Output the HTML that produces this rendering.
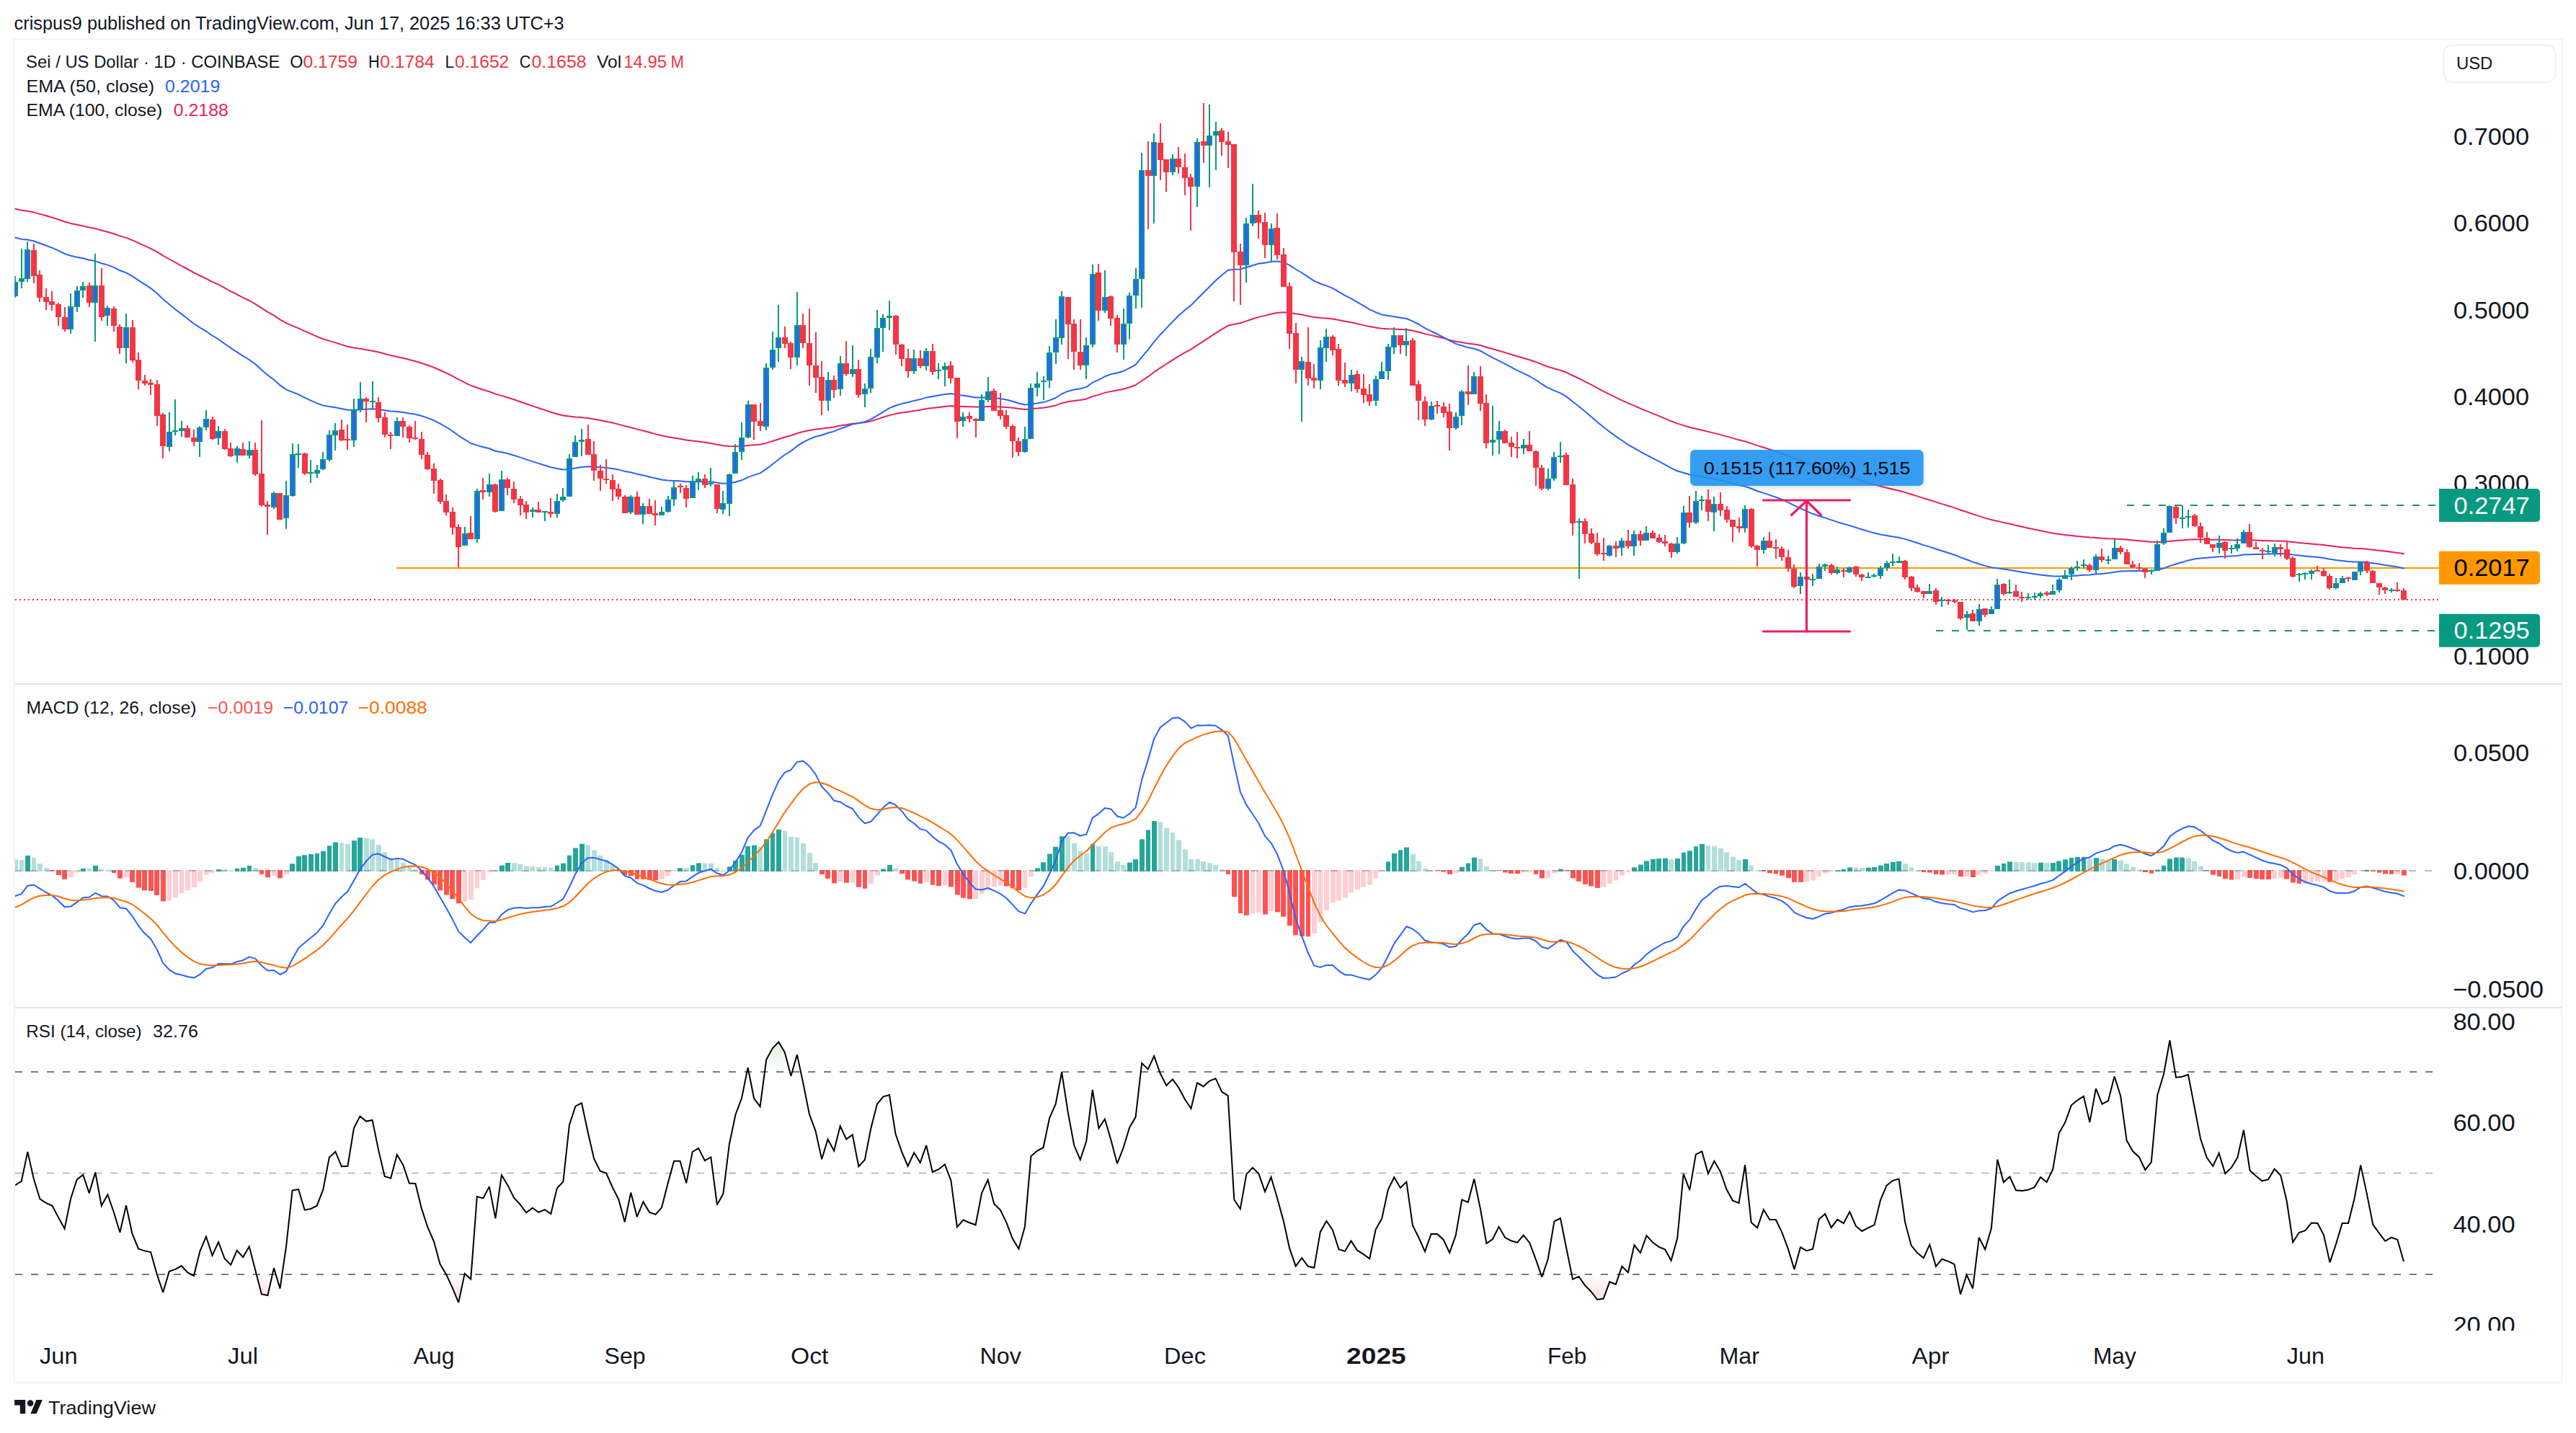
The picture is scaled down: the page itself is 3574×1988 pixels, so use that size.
<!DOCTYPE html>
<html><head><meta charset="utf-8"><title>Sei / US Dollar chart</title>
<style>
html,body{margin:0;padding:0;background:#fff;}
body{width:3574px;height:1988px;position:relative;overflow:hidden;font-family:'Liberation Sans', Arial, Helvetica, sans-serif;color:#131722;}
</style></head><body>
<svg width="3574" height="1988" viewBox="0 0 3574 1988" style="position:absolute;left:0;top:0" font-family="'Liberation Sans', Arial, Helvetica, sans-serif"><defs><clipPath id="clipP"><rect x="20.5" y="55" width="3363.5" height="893"/></clipPath><clipPath id="clipM"><rect x="21" y="950" width="3363" height="447"/></clipPath><clipPath id="clipR"><rect x="21" y="1399" width="3363" height="447"/></clipPath><clipPath id="clipRA"><rect x="3384" y="1399" width="170" height="447"/></clipPath><linearGradient id="gGreen" gradientUnits="userSpaceOnUse" x1="0" y1="1486.9" x2="0" y2="1276.1"><stop offset="0" stop-color="#4CAF50" stop-opacity="0"/><stop offset="1" stop-color="#4CAF50" stop-opacity="1"/></linearGradient><linearGradient id="gRed" gradientUnits="userSpaceOnUse" x1="0" y1="1768.0" x2="0" y2="1978.8"><stop offset="0" stop-color="#F23645" stop-opacity="0"/><stop offset="1" stop-color="#F23645" stop-opacity="1"/></linearGradient><filter id="blur" x="-10%" y="-50%" width="120%" height="200%"><feGaussianBlur stdDeviation="4"/></filter></defs><rect x="20" y="54" width="3534" height="1864" fill="none" stroke="#F3F3F3" stroke-width="2"/><rect x="21" y="948" width="3533" height="2" fill="#E0E3EB"/><rect x="21" y="1397" width="3533" height="2" fill="#E0E3EB"/><g clip-path="url(#clipP)">
<line x1="21" y1="832" x2="3384" y2="832" stroke="#F23645" stroke-width="2" stroke-dasharray="2 4" shape-rendering="crispEdges"/>
<rect x="550" y="787" width="2834" height="2" fill="#FF9800"/>
<line x1="2951" y1="701" x2="3384" y2="701" stroke="#089981" stroke-width="2" stroke-dasharray="10 12" shape-rendering="crispEdges"/>
<line x1="2686" y1="875" x2="3384" y2="875" stroke="#089981" stroke-width="2" stroke-dasharray="10 12" shape-rendering="crispEdges"/>
<polyline points="21.2,289.8 29.8,291.7 38.3,292.8 46.9,294.6 55.4,296.9 64.0,299.3 72.5,301.8 81.0,304.5 89.6,307.5 98.1,309.9 106.7,311.7 115.2,313.4 123.7,315.5 132.3,317.1 140.8,319.5 149.4,321.7 157.9,324.2 166.4,327.4 175.0,329.9 183.5,333.2 192.1,337.1 200.6,340.9 209.1,344.8 217.7,349.3 226.2,354.7 234.8,359.5 243.3,364.2 251.8,368.8 260.4,373.5 268.9,378.2 277.5,382.5 286.0,386.4 294.5,390.8 303.1,394.9 311.6,399.4 320.2,404.1 328.7,408.4 337.2,412.8 345.8,417.0 354.3,421.8 362.9,427.3 371.4,432.8 380.0,437.7 388.5,443.4 397.0,448.2 405.6,451.8 414.1,455.3 422.7,459.3 431.2,463.2 439.7,466.9 448.3,470.3 456.8,472.9 465.4,475.4 473.9,478.1 482.4,480.7 491.0,482.4 499.5,483.8 508.1,485.3 516.6,486.7 525.1,488.5 533.7,490.8 542.2,493.1 550.8,494.9 559.3,496.8 567.8,499.0 576.4,501.2 584.9,503.7 593.5,506.7 602.0,509.8 610.5,513.5 619.1,517.4 627.6,521.7 636.2,526.4 644.7,530.6 653.2,534.9 661.8,537.8 670.3,540.7 678.9,543.3 687.4,546.6 695.9,548.9 704.5,551.5 713.0,554.3 721.6,557.2 730.1,560.2 738.7,563.1 747.2,566.0 755.7,568.9 764.3,571.7 772.8,574.2 781.4,576.5 789.9,577.6 798.4,578.4 807.0,579.0 815.5,580.0 824.1,581.5 832.6,583.1 841.1,584.7 849.7,586.6 858.2,588.6 866.8,591.1 875.3,593.0 883.8,595.4 892.4,597.5 900.9,599.8 909.5,602.1 918.0,604.3 926.5,606.0 935.1,607.4 943.6,608.7 952.2,610.4 960.7,611.5 969.2,612.6 977.8,613.8 986.3,614.9 994.9,616.7 1003.4,618.3 1011.9,619.1 1020.5,619.2 1029.0,619.0 1037.6,617.9 1046.1,617.2 1054.6,616.7 1063.2,614.6 1071.7,612.0 1080.3,609.2 1088.8,606.5 1097.4,604.3 1105.9,601.3 1114.4,598.8 1123.0,597.0 1131.5,595.6 1140.1,594.8 1148.6,593.4 1157.1,592.4 1165.7,590.6 1174.2,589.2 1182.8,587.7 1191.3,586.9 1199.8,586.0 1208.4,584.2 1216.9,581.6 1225.5,578.8 1234.0,576.1 1242.5,574.1 1251.1,572.6 1259.6,571.4 1268.2,570.0 1276.7,568.8 1285.2,567.1 1293.8,566.1 1302.3,565.1 1310.9,563.9 1319.4,563.2 1327.9,563.6 1336.5,563.9 1345.0,564.2 1353.6,564.6 1362.1,564.4 1370.6,564.0 1379.2,564.1 1387.7,564.4 1396.3,564.9 1404.8,565.8 1413.4,567.0 1421.9,567.9 1430.4,567.3 1439.0,566.6 1447.5,565.8 1456.1,564.3 1464.6,562.4 1473.1,559.4 1481.7,557.3 1490.2,555.9 1498.8,554.9 1507.3,553.4 1515.8,550.0 1524.4,547.6 1532.9,544.9 1541.5,542.9 1550.0,541.6 1558.5,539.7 1567.1,537.2 1575.6,534.2 1584.2,528.3 1592.7,522.7 1601.2,516.2 1609.8,510.4 1618.3,505.0 1626.9,499.4 1635.4,494.1 1643.9,489.2 1652.5,484.6 1661.0,478.9 1669.6,473.4 1678.1,467.8 1686.6,462.1 1695.2,456.9 1703.7,451.8 1712.3,449.8 1720.8,448.2 1729.3,445.4 1737.9,442.5 1746.4,439.9 1755.0,437.9 1763.5,435.5 1772.1,433.9 1780.6,433.2 1789.1,433.7 1797.7,435.3 1806.2,436.6 1814.8,438.4 1823.3,440.1 1831.8,441.0 1840.4,441.5 1848.9,442.4 1857.5,444.1 1866.0,445.8 1874.5,447.3 1883.1,449.1 1891.6,451.1 1900.2,453.1 1908.7,454.6 1917.2,455.8 1925.8,456.3 1934.3,456.5 1942.9,456.9 1951.4,457.2 1959.9,458.8 1968.5,460.7 1977.0,463.1 1985.6,465.1 1994.1,467.0 2002.6,469.1 2011.2,471.6 2019.7,473.7 2028.3,475.1 2036.8,476.5 2045.3,477.4 2053.9,479.0 2062.4,481.7 2071.0,484.3 2079.5,486.5 2088.1,489.1 2096.6,491.7 2105.1,494.2 2113.7,496.7 2122.2,499.2 2130.8,502.2 2139.3,505.7 2147.8,508.8 2156.4,511.3 2164.9,513.7 2173.5,516.8 2182.0,521.0 2190.5,525.0 2199.1,529.3 2207.6,533.7 2216.2,538.3 2224.7,542.9 2233.2,547.1 2241.8,551.4 2250.3,555.3 2258.9,559.3 2267.4,562.9 2275.9,566.7 2284.5,570.1 2293.0,573.6 2301.6,577.1 2310.1,580.6 2318.6,584.3 2327.2,587.6 2335.7,590.1 2344.3,592.7 2352.8,594.8 2361.3,596.7 2369.9,598.9 2378.4,600.9 2387.0,603.1 2395.5,605.4 2404.0,607.9 2412.6,610.3 2421.1,612.2 2429.7,615.1 2438.2,618.1 2446.8,620.7 2455.3,623.4 2463.8,626.2 2472.4,629.1 2480.9,632.2 2489.5,635.8 2498.0,639.1 2506.5,642.4 2515.1,645.5 2523.6,648.3 2532.2,651.0 2540.7,653.8 2549.2,656.5 2557.8,659.2 2566.3,661.8 2574.9,664.5 2583.4,667.2 2591.9,669.8 2600.5,672.3 2609.0,674.6 2617.6,676.7 2626.1,678.8 2634.6,680.7 2643.2,683.1 2651.7,685.7 2660.3,688.4 2668.8,691.1 2677.3,693.7 2685.9,696.4 2694.4,699.1 2703.0,701.8 2711.5,704.4 2720.0,707.5 2728.6,710.3 2737.1,713.3 2745.7,715.9 2754.2,718.6 2762.8,721.1 2771.3,722.9 2779.8,724.9 2788.4,726.8 2796.9,728.8 2805.5,730.8 2814.0,732.7 2822.5,734.6 2831.1,736.3 2839.6,738.1 2848.2,739.7 2856.7,741.0 2865.2,742.1 2873.8,743.0 2882.3,743.9 2890.9,744.7 2899.4,745.6 2907.9,746.1 2916.5,746.7 2925.0,747.3 2933.6,747.6 2942.1,747.9 2950.6,748.6 2959.2,749.4 2967.7,750.2 2976.3,751.0 2984.8,751.8 2993.3,751.9 3001.9,751.6 3010.4,750.7 3019.0,750.0 3027.5,749.4 3036.0,748.7 3044.6,748.3 3053.1,748.3 3061.7,748.4 3070.2,748.7 3078.7,748.7 3087.3,749.0 3095.8,749.3 3104.4,749.4 3112.9,749.1 3121.5,749.3 3130.0,749.6 3138.5,749.9 3147.1,750.2 3155.6,750.4 3164.2,750.6 3172.7,751.1 3181.2,752.0 3189.8,752.9 3198.3,753.8 3206.9,754.5 3215.4,755.3 3223.9,756.1 3232.5,757.3 3241.0,758.3 3249.6,759.2 3258.1,760.1 3266.6,760.7 3275.2,761.1 3283.7,761.7 3292.3,762.7 3300.8,763.7 3309.3,764.8 3317.9,765.8 3326.4,766.9 3335.0,768.2" fill="none" stroke="#E91E63" stroke-width="2.0" stroke-linejoin="round" stroke-linecap="round" />
<polyline points="21.2,329.7 29.8,331.9 38.3,332.5 46.9,334.5 55.4,337.5 64.0,340.7 72.5,343.9 81.0,347.7 89.6,352.0 98.1,354.8 106.7,356.7 115.2,358.3 123.7,360.7 132.3,362.1 140.8,365.2 149.4,367.6 157.9,370.9 166.4,375.3 175.0,378.4 183.5,383.1 192.1,388.8 200.6,394.4 209.1,399.9 217.7,406.8 226.2,415.1 234.8,422.3 243.3,429.2 251.8,435.6 260.4,442.3 268.9,449.0 277.5,454.7 286.0,459.6 294.5,465.5 303.1,470.7 311.6,476.7 320.2,482.8 328.7,488.3 337.2,493.9 345.8,499.0 354.3,505.2 362.9,512.9 371.4,520.4 380.0,526.8 388.5,534.4 397.0,540.4 405.6,543.9 414.1,547.3 422.7,551.6 431.2,555.6 439.7,559.4 448.3,562.5 456.8,564.1 465.4,565.3 473.9,567.1 482.4,568.8 491.0,568.8 499.5,568.2 508.1,567.8 516.6,567.3 525.1,567.8 533.7,569.2 542.2,570.6 550.8,571.1 559.3,572.0 567.8,573.4 576.4,574.8 584.9,577.0 593.5,579.9 602.0,583.3 610.5,587.7 619.1,592.5 627.6,598.0 636.2,604.3 644.7,609.6 653.2,615.0 661.8,617.6 670.3,620.2 678.9,622.3 687.4,625.7 695.9,627.3 704.5,629.2 713.0,631.7 721.6,634.4 730.1,637.4 738.7,640.1 747.2,642.9 755.7,645.5 764.3,648.2 772.8,650.0 781.4,651.6 789.9,651.0 798.4,649.5 807.0,647.9 815.5,647.3 824.1,647.5 832.6,648.2 841.1,648.9 849.7,650.0 858.2,651.6 866.8,653.9 875.3,655.3 883.8,657.6 892.4,659.4 900.9,661.5 909.5,663.6 918.0,665.4 926.5,666.5 935.1,666.9 943.6,667.2 952.2,668.2 960.7,668.2 969.2,668.0 977.8,668.2 986.3,668.3 994.9,669.7 1003.4,670.8 1011.9,670.4 1020.5,668.7 1029.0,666.3 1037.6,662.1 1046.1,659.1 1054.6,656.4 1063.2,650.7 1071.7,644.2 1080.3,637.3 1088.8,631.0 1097.4,625.7 1105.9,618.9 1114.4,613.3 1123.0,609.1 1131.5,605.7 1140.1,603.8 1148.6,600.8 1157.1,598.4 1165.7,594.7 1174.2,591.7 1182.8,588.6 1191.3,587.0 1199.8,585.2 1208.4,581.6 1216.9,576.7 1225.5,571.4 1234.0,566.1 1242.5,562.7 1251.1,560.1 1259.6,558.3 1268.2,555.9 1276.7,554.1 1285.2,551.4 1293.8,550.1 1302.3,548.6 1310.9,547.0 1319.4,546.1 1327.9,547.7 1336.5,548.8 1345.0,550.1 1353.6,551.5 1362.1,551.6 1370.6,551.3 1379.2,552.0 1387.7,552.9 1396.3,554.5 1404.8,556.7 1413.4,559.5 1421.9,561.4 1430.4,560.5 1439.0,559.4 1447.5,558.1 1456.1,555.4 1464.6,552.0 1473.1,546.5 1481.7,542.7 1490.2,540.6 1498.8,539.3 1507.3,536.9 1515.8,530.7 1524.4,526.8 1532.9,522.3 1541.5,519.1 1550.0,517.5 1558.5,514.8 1567.1,510.7 1575.6,505.9 1584.2,495.3 1592.7,485.4 1601.2,474.1 1609.8,464.2 1618.3,455.4 1626.9,446.2 1635.4,437.8 1643.9,430.3 1652.5,423.6 1661.0,414.7 1669.6,406.3 1678.1,397.8 1686.6,389.3 1695.2,381.8 1703.7,374.7 1712.3,373.7 1720.8,373.5 1729.3,371.0 1737.9,368.2 1746.4,365.8 1755.0,364.8 1763.5,362.9 1772.1,362.5 1780.6,363.9 1789.1,367.8 1797.7,373.5 1806.2,378.5 1814.8,384.2 1823.3,389.9 1831.8,393.5 1840.4,396.4 1848.9,399.9 1857.5,404.9 1866.0,409.9 1874.5,414.2 1883.1,419.1 1891.6,424.2 1900.2,429.4 1908.7,433.2 1917.2,436.4 1925.8,438.1 1934.3,439.2 1942.9,440.8 1951.4,442.0 1959.9,445.7 1968.5,450.0 1977.0,455.2 1985.6,459.4 1994.1,463.5 2002.6,467.8 2011.2,472.7 2019.7,476.9 2028.3,479.5 2036.8,482.1 2045.3,483.7 2053.9,486.7 2062.4,491.7 2071.0,496.3 2079.5,500.3 2088.1,504.8 2096.6,509.3 2105.1,513.8 2113.7,517.8 2122.2,522.0 2130.8,527.0 2139.3,532.9 2147.8,538.1 2156.4,541.9 2164.9,545.4 2173.5,550.4 2182.0,557.3 2190.5,563.8 2199.1,570.7 2207.6,577.9 2216.2,585.4 2224.7,592.5 2233.2,599.0 2241.8,605.4 2250.3,611.0 2258.9,616.8 2267.4,621.7 2275.9,626.7 2284.5,631.2 2293.0,635.7 2301.6,640.2 2310.1,644.7 2318.6,649.4 2327.2,653.5 2335.7,655.8 2344.3,658.5 2352.8,660.0 2361.3,661.2 2369.9,663.1 2378.4,664.6 2387.0,666.2 2395.5,668.4 2404.0,670.8 2412.6,673.3 2421.1,674.6 2429.7,677.8 2438.2,681.2 2446.8,683.9 2455.3,686.9 2463.8,689.8 2472.4,693.0 2480.9,696.8 2489.5,701.4 2498.0,705.3 2506.5,709.1 2515.1,712.8 2523.6,715.7 2532.2,718.4 2540.7,721.4 2549.2,724.1 2557.8,726.8 2566.3,729.1 2574.9,731.8 2583.4,734.5 2591.9,737.1 2600.5,739.5 2609.0,741.4 2617.6,743.0 2626.1,744.4 2634.6,745.7 2643.2,747.9 2651.7,750.5 2660.3,753.3 2668.8,756.1 2677.3,758.6 2685.9,761.5 2694.4,764.3 2703.0,767.0 2711.5,769.7 2720.0,773.2 2728.6,776.2 2737.1,779.6 2745.7,782.2 2754.2,784.9 2762.8,787.3 2771.3,788.2 2779.8,789.6 2788.4,790.8 2796.9,792.3 2805.5,793.7 2814.0,795.1 2822.5,796.3 2831.1,797.4 2839.6,798.4 2848.2,799.3 2856.7,799.5 2865.2,799.4 2873.8,799.0 2882.3,798.4 2890.9,797.8 2899.4,797.6 2907.9,796.6 2916.5,795.9 2925.0,795.1 2933.6,793.7 2942.1,792.6 2950.6,792.2 2959.2,792.0 2967.7,791.9 2976.3,792.0 2984.8,792.0 2993.3,790.5 3001.9,788.5 3010.4,785.1 3019.0,782.5 3027.5,780.0 3036.0,777.4 3044.6,775.6 3053.1,774.4 3061.7,773.7 3070.2,773.1 3078.7,772.3 3087.3,772.0 3095.8,771.5 3104.4,770.9 3112.9,769.6 3121.5,769.2 3130.0,768.9 3138.5,768.8 3147.1,768.6 3155.6,768.2 3164.2,768.0 3172.7,768.2 3181.2,769.5 3189.8,770.5 3198.3,771.5 3206.9,772.3 3215.4,773.1 3223.9,774.1 3232.5,775.7 3241.0,777.0 3249.6,778.0 3258.1,779.0 3266.6,779.5 3275.2,779.5 3283.7,780.0 3292.3,781.2 3300.8,782.5 3309.3,784.0 3317.9,785.3 3326.4,786.6 3335.0,788.4" fill="none" stroke="#2962FF" stroke-width="2.0" stroke-linejoin="round" stroke-linecap="round" />
<g shape-rendering="crispEdges"><rect x="20" y="383" width="2" height="30" fill="#089981"/>
<rect x="17" y="391" width="8" height="20" fill="#089981"/>
<rect x="19" y="393" width="4" height="16" fill="#2962FF"/>
<rect x="29" y="345" width="2" height="55" fill="#089981"/>
<rect x="26" y="386" width="8" height="5" fill="#089981"/>
<rect x="28" y="388" width="4" height="1" fill="#2962FF"/>
<rect x="37" y="335" width="2" height="56" fill="#089981"/>
<rect x="34" y="346" width="8" height="41" fill="#089981"/>
<rect x="36" y="348" width="4" height="37" fill="#2962FF"/>
<rect x="46" y="338" width="2" height="55" fill="#F23645"/>
<rect x="43" y="347" width="8" height="36" fill="#F23645"/>
<rect x="54" y="375" width="2" height="44" fill="#F23645"/>
<rect x="51" y="381" width="8" height="32" fill="#F23645"/>
<rect x="63" y="400" width="2" height="30" fill="#F23645"/>
<rect x="60" y="412" width="8" height="7" fill="#F23645"/>
<rect x="71" y="404" width="2" height="27" fill="#F23645"/>
<rect x="68" y="418" width="8" height="5" fill="#F23645"/>
<rect x="80" y="420" width="2" height="32" fill="#F23645"/>
<rect x="77" y="422" width="8" height="18" fill="#F23645"/>
<rect x="89" y="426" width="2" height="34" fill="#F23645"/>
<rect x="86" y="440" width="8" height="17" fill="#F23645"/>
<rect x="97" y="407" width="2" height="56" fill="#089981"/>
<rect x="94" y="425" width="8" height="32" fill="#089981"/>
<rect x="96" y="427" width="4" height="28" fill="#2962FF"/>
<rect x="106" y="397" width="2" height="36" fill="#089981"/>
<rect x="103" y="403" width="8" height="23" fill="#089981"/>
<rect x="105" y="405" width="4" height="19" fill="#2962FF"/>
<rect x="114" y="391" width="2" height="22" fill="#089981"/>
<rect x="111" y="397" width="8" height="6" fill="#089981"/>
<rect x="113" y="399" width="4" height="2" fill="#2962FF"/>
<rect x="123" y="392" width="2" height="34" fill="#F23645"/>
<rect x="120" y="396" width="8" height="24" fill="#F23645"/>
<rect x="131" y="352" width="2" height="122" fill="#089981"/>
<rect x="128" y="396" width="8" height="24" fill="#089981"/>
<rect x="130" y="398" width="4" height="20" fill="#2962FF"/>
<rect x="140" y="372" width="2" height="73" fill="#F23645"/>
<rect x="137" y="396" width="8" height="44" fill="#F23645"/>
<rect x="148" y="424" width="2" height="28" fill="#089981"/>
<rect x="145" y="427" width="8" height="11" fill="#089981"/>
<rect x="147" y="429" width="4" height="7" fill="#2962FF"/>
<rect x="157" y="425" width="2" height="35" fill="#F23645"/>
<rect x="154" y="428" width="8" height="24" fill="#F23645"/>
<rect x="165" y="450" width="2" height="41" fill="#F23645"/>
<rect x="162" y="453" width="8" height="30" fill="#F23645"/>
<rect x="174" y="435" width="2" height="69" fill="#089981"/>
<rect x="171" y="454" width="8" height="29" fill="#089981"/>
<rect x="173" y="456" width="4" height="25" fill="#2962FF"/>
<rect x="183" y="444" width="2" height="59" fill="#F23645"/>
<rect x="180" y="454" width="8" height="46" fill="#F23645"/>
<rect x="191" y="489" width="2" height="51" fill="#F23645"/>
<rect x="188" y="499" width="8" height="29" fill="#F23645"/>
<rect x="200" y="520" width="2" height="15" fill="#F23645"/>
<rect x="197" y="528" width="8" height="4" fill="#F23645"/>
<rect x="208" y="526" width="2" height="22" fill="#F23645"/>
<rect x="205" y="531" width="8" height="3" fill="#F23645"/>
<rect x="217" y="527" width="2" height="64" fill="#F23645"/>
<rect x="214" y="533" width="8" height="44" fill="#F23645"/>
<rect x="225" y="573" width="2" height="63" fill="#F23645"/>
<rect x="222" y="575" width="8" height="44" fill="#F23645"/>
<rect x="234" y="572" width="2" height="54" fill="#089981"/>
<rect x="231" y="599" width="8" height="21" fill="#089981"/>
<rect x="233" y="601" width="4" height="17" fill="#2962FF"/>
<rect x="242" y="554" width="2" height="50" fill="#089981"/>
<rect x="239" y="597" width="8" height="2" fill="#089981"/>
<rect x="251" y="584" width="2" height="22" fill="#089981"/>
<rect x="248" y="594" width="8" height="4" fill="#089981"/>
<rect x="259" y="590" width="2" height="17" fill="#F23645"/>
<rect x="256" y="594" width="8" height="13" fill="#F23645"/>
<rect x="268" y="596" width="2" height="23" fill="#F23645"/>
<rect x="265" y="607" width="8" height="6" fill="#F23645"/>
<rect x="276" y="591" width="2" height="43" fill="#089981"/>
<rect x="273" y="593" width="8" height="20" fill="#089981"/>
<rect x="275" y="595" width="4" height="16" fill="#2962FF"/>
<rect x="285" y="569" width="2" height="28" fill="#089981"/>
<rect x="282" y="581" width="8" height="12" fill="#089981"/>
<rect x="284" y="583" width="4" height="8" fill="#2962FF"/>
<rect x="294" y="578" width="2" height="32" fill="#F23645"/>
<rect x="291" y="582" width="8" height="27" fill="#F23645"/>
<rect x="302" y="591" width="2" height="26" fill="#089981"/>
<rect x="299" y="598" width="8" height="10" fill="#089981"/>
<rect x="301" y="600" width="4" height="6" fill="#2962FF"/>
<rect x="311" y="595" width="2" height="29" fill="#F23645"/>
<rect x="308" y="598" width="8" height="25" fill="#F23645"/>
<rect x="319" y="614" width="2" height="20" fill="#F23645"/>
<rect x="316" y="622" width="8" height="11" fill="#F23645"/>
<rect x="328" y="619" width="2" height="23" fill="#089981"/>
<rect x="325" y="622" width="8" height="10" fill="#089981"/>
<rect x="327" y="624" width="4" height="6" fill="#2962FF"/>
<rect x="336" y="614" width="2" height="18" fill="#F23645"/>
<rect x="333" y="623" width="8" height="9" fill="#F23645"/>
<rect x="345" y="612" width="2" height="24" fill="#089981"/>
<rect x="342" y="624" width="8" height="8" fill="#089981"/>
<rect x="344" y="626" width="4" height="4" fill="#2962FF"/>
<rect x="353" y="614" width="2" height="46" fill="#F23645"/>
<rect x="350" y="624" width="8" height="34" fill="#F23645"/>
<rect x="362" y="583" width="2" height="120" fill="#F23645"/>
<rect x="359" y="657" width="8" height="44" fill="#F23645"/>
<rect x="370" y="695" width="2" height="47" fill="#F23645"/>
<rect x="367" y="700" width="8" height="3" fill="#F23645"/>
<rect x="379" y="682" width="2" height="24" fill="#089981"/>
<rect x="376" y="684" width="8" height="20" fill="#089981"/>
<rect x="378" y="686" width="4" height="16" fill="#2962FF"/>
<rect x="387" y="684" width="2" height="37" fill="#F23645"/>
<rect x="384" y="684" width="8" height="37" fill="#F23645"/>
<rect x="396" y="667" width="2" height="67" fill="#089981"/>
<rect x="393" y="687" width="8" height="32" fill="#089981"/>
<rect x="395" y="689" width="4" height="28" fill="#2962FF"/>
<rect x="405" y="615" width="2" height="74" fill="#089981"/>
<rect x="402" y="630" width="8" height="58" fill="#089981"/>
<rect x="404" y="632" width="4" height="54" fill="#2962FF"/>
<rect x="413" y="616" width="2" height="33" fill="#089981"/>
<rect x="410" y="629" width="8" height="2" fill="#089981"/>
<rect x="422" y="628" width="2" height="31" fill="#F23645"/>
<rect x="419" y="629" width="8" height="28" fill="#F23645"/>
<rect x="430" y="638" width="2" height="32" fill="#089981"/>
<rect x="427" y="655" width="8" height="2" fill="#089981"/>
<rect x="439" y="645" width="2" height="18" fill="#089981"/>
<rect x="436" y="652" width="8" height="5" fill="#089981"/>
<rect x="438" y="654" width="4" height="1" fill="#2962FF"/>
<rect x="447" y="627" width="2" height="25" fill="#089981"/>
<rect x="444" y="637" width="8" height="14" fill="#089981"/>
<rect x="446" y="639" width="4" height="10" fill="#2962FF"/>
<rect x="456" y="597" width="2" height="43" fill="#089981"/>
<rect x="453" y="603" width="8" height="35" fill="#089981"/>
<rect x="455" y="605" width="4" height="31" fill="#2962FF"/>
<rect x="464" y="587" width="2" height="38" fill="#089981"/>
<rect x="461" y="597" width="8" height="7" fill="#089981"/>
<rect x="463" y="599" width="4" height="3" fill="#2962FF"/>
<rect x="473" y="582" width="2" height="30" fill="#F23645"/>
<rect x="470" y="596" width="8" height="15" fill="#F23645"/>
<rect x="481" y="589" width="2" height="35" fill="#F23645"/>
<rect x="478" y="609" width="8" height="2" fill="#F23645"/>
<rect x="490" y="553" width="2" height="67" fill="#089981"/>
<rect x="487" y="569" width="8" height="42" fill="#089981"/>
<rect x="489" y="571" width="4" height="38" fill="#2962FF"/>
<rect x="499" y="530" width="2" height="42" fill="#089981"/>
<rect x="496" y="553" width="8" height="15" fill="#089981"/>
<rect x="498" y="555" width="4" height="11" fill="#2962FF"/>
<rect x="507" y="551" width="2" height="35" fill="#F23645"/>
<rect x="504" y="553" width="8" height="4" fill="#F23645"/>
<rect x="516" y="529" width="2" height="39" fill="#089981"/>
<rect x="513" y="556" width="8" height="2" fill="#089981"/>
<rect x="524" y="551" width="2" height="35" fill="#F23645"/>
<rect x="521" y="558" width="8" height="22" fill="#F23645"/>
<rect x="533" y="572" width="2" height="35" fill="#F23645"/>
<rect x="530" y="579" width="8" height="24" fill="#F23645"/>
<rect x="541" y="599" width="2" height="24" fill="#F23645"/>
<rect x="538" y="603" width="8" height="2" fill="#F23645"/>
<rect x="550" y="579" width="2" height="26" fill="#089981"/>
<rect x="547" y="584" width="8" height="21" fill="#089981"/>
<rect x="549" y="586" width="4" height="17" fill="#2962FF"/>
<rect x="558" y="579" width="2" height="28" fill="#F23645"/>
<rect x="555" y="584" width="8" height="8" fill="#F23645"/>
<rect x="567" y="590" width="2" height="24" fill="#F23645"/>
<rect x="564" y="592" width="8" height="16" fill="#F23645"/>
<rect x="575" y="584" width="2" height="26" fill="#F23645"/>
<rect x="572" y="607" width="8" height="2" fill="#F23645"/>
<rect x="584" y="599" width="2" height="38" fill="#F23645"/>
<rect x="581" y="609" width="8" height="22" fill="#F23645"/>
<rect x="592" y="627" width="2" height="25" fill="#F23645"/>
<rect x="589" y="631" width="8" height="20" fill="#F23645"/>
<rect x="601" y="643" width="2" height="42" fill="#F23645"/>
<rect x="598" y="650" width="8" height="17" fill="#F23645"/>
<rect x="610" y="664" width="2" height="35" fill="#F23645"/>
<rect x="607" y="666" width="8" height="30" fill="#F23645"/>
<rect x="618" y="686" width="2" height="29" fill="#F23645"/>
<rect x="615" y="695" width="8" height="16" fill="#F23645"/>
<rect x="627" y="704" width="2" height="38" fill="#F23645"/>
<rect x="624" y="710" width="8" height="22" fill="#F23645"/>
<rect x="635" y="727" width="2" height="60" fill="#F23645"/>
<rect x="632" y="731" width="8" height="28" fill="#F23645"/>
<rect x="644" y="731" width="2" height="26" fill="#089981"/>
<rect x="641" y="740" width="8" height="17" fill="#089981"/>
<rect x="643" y="742" width="4" height="13" fill="#2962FF"/>
<rect x="652" y="716" width="2" height="32" fill="#F23645"/>
<rect x="649" y="739" width="8" height="9" fill="#F23645"/>
<rect x="661" y="678" width="2" height="75" fill="#089981"/>
<rect x="658" y="681" width="8" height="67" fill="#089981"/>
<rect x="660" y="683" width="4" height="63" fill="#2962FF"/>
<rect x="669" y="663" width="2" height="30" fill="#F23645"/>
<rect x="666" y="680" width="8" height="3" fill="#F23645"/>
<rect x="678" y="657" width="2" height="32" fill="#089981"/>
<rect x="675" y="672" width="8" height="11" fill="#089981"/>
<rect x="677" y="674" width="4" height="7" fill="#2962FF"/>
<rect x="686" y="671" width="2" height="40" fill="#F23645"/>
<rect x="683" y="672" width="8" height="38" fill="#F23645"/>
<rect x="695" y="653" width="2" height="56" fill="#089981"/>
<rect x="692" y="665" width="8" height="44" fill="#089981"/>
<rect x="694" y="667" width="4" height="40" fill="#2962FF"/>
<rect x="703" y="663" width="2" height="24" fill="#F23645"/>
<rect x="700" y="665" width="8" height="12" fill="#F23645"/>
<rect x="712" y="668" width="2" height="30" fill="#F23645"/>
<rect x="709" y="678" width="8" height="15" fill="#F23645"/>
<rect x="721" y="688" width="2" height="27" fill="#F23645"/>
<rect x="718" y="692" width="8" height="9" fill="#F23645"/>
<rect x="729" y="695" width="2" height="25" fill="#F23645"/>
<rect x="726" y="700" width="8" height="11" fill="#F23645"/>
<rect x="738" y="704" width="2" height="14" fill="#089981"/>
<rect x="735" y="707" width="8" height="3" fill="#089981"/>
<rect x="746" y="696" width="2" height="15" fill="#F23645"/>
<rect x="743" y="707" width="8" height="4" fill="#F23645"/>
<rect x="755" y="709" width="2" height="14" fill="#089981"/>
<rect x="752" y="709" width="8" height="2" fill="#089981"/>
<rect x="763" y="691" width="2" height="27" fill="#F23645"/>
<rect x="760" y="710" width="8" height="3" fill="#F23645"/>
<rect x="772" y="685" width="2" height="33" fill="#089981"/>
<rect x="769" y="695" width="8" height="18" fill="#089981"/>
<rect x="771" y="697" width="4" height="14" fill="#2962FF"/>
<rect x="780" y="677" width="2" height="19" fill="#089981"/>
<rect x="777" y="689" width="8" height="5" fill="#089981"/>
<rect x="779" y="691" width="4" height="1" fill="#2962FF"/>
<rect x="789" y="630" width="2" height="59" fill="#089981"/>
<rect x="786" y="636" width="8" height="53" fill="#089981"/>
<rect x="788" y="638" width="4" height="49" fill="#2962FF"/>
<rect x="797" y="604" width="2" height="30" fill="#089981"/>
<rect x="794" y="613" width="8" height="21" fill="#089981"/>
<rect x="796" y="615" width="4" height="17" fill="#2962FF"/>
<rect x="806" y="595" width="2" height="38" fill="#089981"/>
<rect x="803" y="610" width="8" height="3" fill="#089981"/>
<rect x="815" y="589" width="2" height="42" fill="#F23645"/>
<rect x="812" y="609" width="8" height="22" fill="#F23645"/>
<rect x="823" y="612" width="2" height="55" fill="#F23645"/>
<rect x="820" y="630" width="8" height="23" fill="#F23645"/>
<rect x="832" y="645" width="2" height="36" fill="#F23645"/>
<rect x="829" y="653" width="8" height="11" fill="#F23645"/>
<rect x="840" y="637" width="2" height="34" fill="#F23645"/>
<rect x="837" y="664" width="8" height="2" fill="#F23645"/>
<rect x="849" y="658" width="2" height="37" fill="#F23645"/>
<rect x="846" y="666" width="8" height="13" fill="#F23645"/>
<rect x="857" y="671" width="2" height="22" fill="#F23645"/>
<rect x="854" y="678" width="8" height="11" fill="#F23645"/>
<rect x="866" y="687" width="2" height="25" fill="#F23645"/>
<rect x="863" y="689" width="8" height="23" fill="#F23645"/>
<rect x="874" y="687" width="2" height="26" fill="#089981"/>
<rect x="871" y="689" width="8" height="22" fill="#089981"/>
<rect x="873" y="691" width="4" height="18" fill="#2962FF"/>
<rect x="883" y="682" width="2" height="32" fill="#F23645"/>
<rect x="880" y="689" width="8" height="25" fill="#F23645"/>
<rect x="891" y="698" width="2" height="29" fill="#089981"/>
<rect x="888" y="702" width="8" height="12" fill="#089981"/>
<rect x="890" y="704" width="4" height="8" fill="#2962FF"/>
<rect x="900" y="692" width="2" height="21" fill="#F23645"/>
<rect x="897" y="702" width="8" height="11" fill="#F23645"/>
<rect x="908" y="694" width="2" height="35" fill="#F23645"/>
<rect x="905" y="712" width="8" height="3" fill="#F23645"/>
<rect x="917" y="703" width="2" height="12" fill="#089981"/>
<rect x="914" y="710" width="8" height="5" fill="#089981"/>
<rect x="916" y="712" width="4" height="1" fill="#2962FF"/>
<rect x="926" y="688" width="2" height="23" fill="#089981"/>
<rect x="923" y="693" width="8" height="17" fill="#089981"/>
<rect x="925" y="695" width="4" height="13" fill="#2962FF"/>
<rect x="934" y="667" width="2" height="35" fill="#089981"/>
<rect x="931" y="676" width="8" height="17" fill="#089981"/>
<rect x="933" y="678" width="4" height="13" fill="#2962FF"/>
<rect x="943" y="671" width="2" height="13" fill="#F23645"/>
<rect x="940" y="674" width="8" height="2" fill="#F23645"/>
<rect x="951" y="673" width="2" height="31" fill="#F23645"/>
<rect x="948" y="677" width="8" height="15" fill="#F23645"/>
<rect x="960" y="660" width="2" height="31" fill="#089981"/>
<rect x="957" y="667" width="8" height="24" fill="#089981"/>
<rect x="959" y="669" width="4" height="20" fill="#2962FF"/>
<rect x="968" y="655" width="2" height="25" fill="#089981"/>
<rect x="965" y="664" width="8" height="3" fill="#089981"/>
<rect x="977" y="658" width="2" height="19" fill="#F23645"/>
<rect x="974" y="664" width="8" height="9" fill="#F23645"/>
<rect x="985" y="649" width="2" height="26" fill="#089981"/>
<rect x="982" y="670" width="8" height="2" fill="#089981"/>
<rect x="994" y="672" width="2" height="40" fill="#F23645"/>
<rect x="991" y="672" width="8" height="34" fill="#F23645"/>
<rect x="1002" y="681" width="2" height="32" fill="#089981"/>
<rect x="999" y="698" width="8" height="9" fill="#089981"/>
<rect x="1001" y="700" width="4" height="5" fill="#2962FF"/>
<rect x="1011" y="657" width="2" height="59" fill="#089981"/>
<rect x="1008" y="658" width="8" height="41" fill="#089981"/>
<rect x="1010" y="660" width="4" height="37" fill="#2962FF"/>
<rect x="1019" y="616" width="2" height="41" fill="#089981"/>
<rect x="1016" y="627" width="8" height="30" fill="#089981"/>
<rect x="1018" y="629" width="4" height="26" fill="#2962FF"/>
<rect x="1028" y="586" width="2" height="52" fill="#089981"/>
<rect x="1025" y="607" width="8" height="20" fill="#089981"/>
<rect x="1027" y="609" width="4" height="16" fill="#2962FF"/>
<rect x="1037" y="556" width="2" height="52" fill="#089981"/>
<rect x="1034" y="561" width="8" height="46" fill="#089981"/>
<rect x="1036" y="563" width="4" height="42" fill="#2962FF"/>
<rect x="1045" y="561" width="2" height="49" fill="#F23645"/>
<rect x="1042" y="561" width="8" height="24" fill="#F23645"/>
<rect x="1054" y="559" width="2" height="39" fill="#F23645"/>
<rect x="1051" y="584" width="8" height="7" fill="#F23645"/>
<rect x="1062" y="504" width="2" height="93" fill="#089981"/>
<rect x="1059" y="510" width="8" height="82" fill="#089981"/>
<rect x="1061" y="512" width="4" height="78" fill="#2962FF"/>
<rect x="1071" y="460" width="2" height="53" fill="#089981"/>
<rect x="1068" y="485" width="8" height="25" fill="#089981"/>
<rect x="1070" y="487" width="4" height="21" fill="#2962FF"/>
<rect x="1079" y="423" width="2" height="79" fill="#089981"/>
<rect x="1076" y="468" width="8" height="15" fill="#089981"/>
<rect x="1078" y="470" width="4" height="11" fill="#2962FF"/>
<rect x="1088" y="453" width="2" height="30" fill="#F23645"/>
<rect x="1085" y="468" width="8" height="9" fill="#F23645"/>
<rect x="1096" y="474" width="2" height="38" fill="#F23645"/>
<rect x="1093" y="476" width="8" height="20" fill="#F23645"/>
<rect x="1105" y="405" width="2" height="102" fill="#089981"/>
<rect x="1102" y="451" width="8" height="45" fill="#089981"/>
<rect x="1104" y="453" width="4" height="41" fill="#2962FF"/>
<rect x="1113" y="435" width="2" height="48" fill="#F23645"/>
<rect x="1110" y="451" width="8" height="25" fill="#F23645"/>
<rect x="1122" y="428" width="2" height="107" fill="#F23645"/>
<rect x="1119" y="476" width="8" height="31" fill="#F23645"/>
<rect x="1131" y="461" width="2" height="84" fill="#F23645"/>
<rect x="1128" y="507" width="8" height="17" fill="#F23645"/>
<rect x="1139" y="501" width="2" height="75" fill="#F23645"/>
<rect x="1136" y="523" width="8" height="33" fill="#F23645"/>
<rect x="1148" y="516" width="2" height="54" fill="#089981"/>
<rect x="1145" y="527" width="8" height="29" fill="#089981"/>
<rect x="1147" y="529" width="4" height="25" fill="#2962FF"/>
<rect x="1156" y="521" width="2" height="31" fill="#F23645"/>
<rect x="1153" y="527" width="8" height="14" fill="#F23645"/>
<rect x="1165" y="494" width="2" height="55" fill="#089981"/>
<rect x="1162" y="504" width="8" height="36" fill="#089981"/>
<rect x="1164" y="506" width="4" height="32" fill="#2962FF"/>
<rect x="1173" y="473" width="2" height="48" fill="#F23645"/>
<rect x="1170" y="504" width="8" height="15" fill="#F23645"/>
<rect x="1182" y="479" width="2" height="44" fill="#089981"/>
<rect x="1179" y="512" width="8" height="7" fill="#089981"/>
<rect x="1181" y="514" width="4" height="3" fill="#2962FF"/>
<rect x="1190" y="499" width="2" height="53" fill="#F23645"/>
<rect x="1187" y="512" width="8" height="36" fill="#F23645"/>
<rect x="1199" y="532" width="2" height="33" fill="#089981"/>
<rect x="1196" y="539" width="8" height="8" fill="#089981"/>
<rect x="1198" y="541" width="4" height="4" fill="#2962FF"/>
<rect x="1207" y="484" width="2" height="61" fill="#089981"/>
<rect x="1204" y="495" width="8" height="44" fill="#089981"/>
<rect x="1206" y="497" width="4" height="40" fill="#2962FF"/>
<rect x="1216" y="430" width="2" height="74" fill="#089981"/>
<rect x="1213" y="455" width="8" height="41" fill="#089981"/>
<rect x="1215" y="457" width="4" height="37" fill="#2962FF"/>
<rect x="1224" y="436" width="2" height="52" fill="#089981"/>
<rect x="1221" y="441" width="8" height="14" fill="#089981"/>
<rect x="1223" y="443" width="4" height="10" fill="#2962FF"/>
<rect x="1233" y="417" width="2" height="41" fill="#089981"/>
<rect x="1230" y="438" width="8" height="3" fill="#089981"/>
<rect x="1242" y="437" width="2" height="55" fill="#F23645"/>
<rect x="1239" y="438" width="8" height="40" fill="#F23645"/>
<rect x="1250" y="477" width="2" height="31" fill="#F23645"/>
<rect x="1247" y="478" width="8" height="20" fill="#F23645"/>
<rect x="1259" y="484" width="2" height="40" fill="#F23645"/>
<rect x="1256" y="497" width="8" height="18" fill="#F23645"/>
<rect x="1267" y="485" width="2" height="34" fill="#089981"/>
<rect x="1264" y="497" width="8" height="18" fill="#089981"/>
<rect x="1266" y="499" width="4" height="14" fill="#2962FF"/>
<rect x="1276" y="486" width="2" height="25" fill="#F23645"/>
<rect x="1273" y="497" width="8" height="11" fill="#F23645"/>
<rect x="1284" y="483" width="2" height="31" fill="#089981"/>
<rect x="1281" y="487" width="8" height="21" fill="#089981"/>
<rect x="1283" y="489" width="4" height="17" fill="#2962FF"/>
<rect x="1293" y="477" width="2" height="43" fill="#F23645"/>
<rect x="1290" y="487" width="8" height="29" fill="#F23645"/>
<rect x="1301" y="504" width="2" height="22" fill="#089981"/>
<rect x="1298" y="513" width="8" height="2" fill="#089981"/>
<rect x="1310" y="503" width="2" height="33" fill="#089981"/>
<rect x="1307" y="508" width="8" height="5" fill="#089981"/>
<rect x="1309" y="510" width="4" height="1" fill="#2962FF"/>
<rect x="1318" y="501" width="2" height="31" fill="#F23645"/>
<rect x="1315" y="507" width="8" height="18" fill="#F23645"/>
<rect x="1327" y="524" width="2" height="84" fill="#F23645"/>
<rect x="1324" y="524" width="8" height="61" fill="#F23645"/>
<rect x="1335" y="572" width="2" height="20" fill="#089981"/>
<rect x="1332" y="578" width="8" height="6" fill="#089981"/>
<rect x="1334" y="580" width="4" height="2" fill="#2962FF"/>
<rect x="1344" y="572" width="2" height="14" fill="#F23645"/>
<rect x="1341" y="577" width="8" height="4" fill="#F23645"/>
<rect x="1353" y="580" width="2" height="27" fill="#F23645"/>
<rect x="1350" y="581" width="8" height="3" fill="#F23645"/>
<rect x="1361" y="547" width="2" height="37" fill="#089981"/>
<rect x="1358" y="555" width="8" height="29" fill="#089981"/>
<rect x="1360" y="557" width="4" height="25" fill="#2962FF"/>
<rect x="1370" y="523" width="2" height="35" fill="#089981"/>
<rect x="1367" y="543" width="8" height="12" fill="#089981"/>
<rect x="1369" y="545" width="4" height="8" fill="#2962FF"/>
<rect x="1378" y="539" width="2" height="31" fill="#F23645"/>
<rect x="1375" y="542" width="8" height="28" fill="#F23645"/>
<rect x="1387" y="545" width="2" height="37" fill="#F23645"/>
<rect x="1384" y="569" width="8" height="8" fill="#F23645"/>
<rect x="1395" y="569" width="2" height="26" fill="#F23645"/>
<rect x="1392" y="576" width="8" height="16" fill="#F23645"/>
<rect x="1404" y="589" width="2" height="46" fill="#F23645"/>
<rect x="1401" y="591" width="8" height="21" fill="#F23645"/>
<rect x="1412" y="607" width="2" height="26" fill="#F23645"/>
<rect x="1409" y="612" width="8" height="15" fill="#F23645"/>
<rect x="1421" y="592" width="2" height="36" fill="#089981"/>
<rect x="1418" y="609" width="8" height="18" fill="#089981"/>
<rect x="1420" y="611" width="4" height="14" fill="#2962FF"/>
<rect x="1429" y="532" width="2" height="77" fill="#089981"/>
<rect x="1426" y="538" width="8" height="71" fill="#089981"/>
<rect x="1428" y="540" width="4" height="67" fill="#2962FF"/>
<rect x="1438" y="516" width="2" height="34" fill="#089981"/>
<rect x="1435" y="532" width="8" height="6" fill="#089981"/>
<rect x="1437" y="534" width="4" height="2" fill="#2962FF"/>
<rect x="1447" y="522" width="2" height="33" fill="#089981"/>
<rect x="1444" y="528" width="8" height="2" fill="#089981"/>
<rect x="1455" y="480" width="2" height="58" fill="#089981"/>
<rect x="1452" y="489" width="8" height="39" fill="#089981"/>
<rect x="1454" y="491" width="4" height="35" fill="#2962FF"/>
<rect x="1464" y="443" width="2" height="62" fill="#089981"/>
<rect x="1461" y="468" width="8" height="21" fill="#089981"/>
<rect x="1463" y="470" width="4" height="17" fill="#2962FF"/>
<rect x="1472" y="404" width="2" height="74" fill="#089981"/>
<rect x="1469" y="411" width="8" height="58" fill="#089981"/>
<rect x="1471" y="413" width="4" height="54" fill="#2962FF"/>
<rect x="1481" y="412" width="2" height="86" fill="#F23645"/>
<rect x="1478" y="412" width="8" height="38" fill="#F23645"/>
<rect x="1489" y="443" width="2" height="70" fill="#F23645"/>
<rect x="1486" y="449" width="8" height="39" fill="#F23645"/>
<rect x="1498" y="443" width="2" height="70" fill="#F23645"/>
<rect x="1495" y="488" width="8" height="19" fill="#F23645"/>
<rect x="1506" y="468" width="2" height="58" fill="#089981"/>
<rect x="1503" y="479" width="8" height="28" fill="#089981"/>
<rect x="1505" y="481" width="4" height="24" fill="#2962FF"/>
<rect x="1515" y="367" width="2" height="115" fill="#089981"/>
<rect x="1512" y="380" width="8" height="98" fill="#089981"/>
<rect x="1514" y="382" width="4" height="94" fill="#2962FF"/>
<rect x="1523" y="366" width="2" height="79" fill="#F23645"/>
<rect x="1520" y="378" width="8" height="53" fill="#F23645"/>
<rect x="1532" y="375" width="2" height="59" fill="#089981"/>
<rect x="1529" y="412" width="8" height="19" fill="#089981"/>
<rect x="1531" y="414" width="4" height="15" fill="#2962FF"/>
<rect x="1540" y="410" width="2" height="42" fill="#F23645"/>
<rect x="1537" y="411" width="8" height="31" fill="#F23645"/>
<rect x="1549" y="437" width="2" height="52" fill="#F23645"/>
<rect x="1546" y="441" width="8" height="37" fill="#F23645"/>
<rect x="1558" y="428" width="2" height="71" fill="#089981"/>
<rect x="1555" y="449" width="8" height="29" fill="#089981"/>
<rect x="1557" y="451" width="4" height="25" fill="#2962FF"/>
<rect x="1566" y="406" width="2" height="65" fill="#089981"/>
<rect x="1563" y="410" width="8" height="39" fill="#089981"/>
<rect x="1565" y="412" width="4" height="35" fill="#2962FF"/>
<rect x="1575" y="372" width="2" height="56" fill="#089981"/>
<rect x="1572" y="387" width="8" height="23" fill="#089981"/>
<rect x="1574" y="389" width="4" height="19" fill="#2962FF"/>
<rect x="1583" y="212" width="2" height="215" fill="#089981"/>
<rect x="1580" y="236" width="8" height="151" fill="#089981"/>
<rect x="1582" y="238" width="4" height="147" fill="#2962FF"/>
<rect x="1592" y="196" width="2" height="122" fill="#F23645"/>
<rect x="1589" y="236" width="8" height="8" fill="#F23645"/>
<rect x="1600" y="185" width="2" height="125" fill="#089981"/>
<rect x="1597" y="197" width="8" height="47" fill="#089981"/>
<rect x="1599" y="199" width="4" height="43" fill="#2962FF"/>
<rect x="1609" y="171" width="2" height="79" fill="#F23645"/>
<rect x="1606" y="198" width="8" height="24" fill="#F23645"/>
<rect x="1617" y="221" width="2" height="45" fill="#F23645"/>
<rect x="1614" y="221" width="8" height="18" fill="#F23645"/>
<rect x="1626" y="214" width="2" height="29" fill="#089981"/>
<rect x="1623" y="220" width="8" height="19" fill="#089981"/>
<rect x="1625" y="222" width="4" height="15" fill="#2962FF"/>
<rect x="1634" y="204" width="2" height="37" fill="#F23645"/>
<rect x="1631" y="220" width="8" height="12" fill="#F23645"/>
<rect x="1643" y="213" width="2" height="58" fill="#F23645"/>
<rect x="1640" y="232" width="8" height="15" fill="#F23645"/>
<rect x="1651" y="241" width="2" height="79" fill="#F23645"/>
<rect x="1648" y="246" width="8" height="13" fill="#F23645"/>
<rect x="1660" y="192" width="2" height="95" fill="#089981"/>
<rect x="1657" y="197" width="8" height="62" fill="#089981"/>
<rect x="1659" y="199" width="4" height="58" fill="#2962FF"/>
<rect x="1669" y="143" width="2" height="83" fill="#F23645"/>
<rect x="1666" y="196" width="8" height="6" fill="#F23645"/>
<rect x="1677" y="145" width="2" height="115" fill="#089981"/>
<rect x="1674" y="188" width="8" height="14" fill="#089981"/>
<rect x="1676" y="190" width="4" height="10" fill="#2962FF"/>
<rect x="1686" y="169" width="2" height="67" fill="#089981"/>
<rect x="1683" y="182" width="8" height="6" fill="#089981"/>
<rect x="1685" y="184" width="4" height="2" fill="#2962FF"/>
<rect x="1694" y="178" width="2" height="38" fill="#F23645"/>
<rect x="1691" y="181" width="8" height="16" fill="#F23645"/>
<rect x="1703" y="183" width="2" height="50" fill="#F23645"/>
<rect x="1700" y="196" width="8" height="5" fill="#F23645"/>
<rect x="1711" y="200" width="2" height="218" fill="#F23645"/>
<rect x="1708" y="200" width="8" height="150" fill="#F23645"/>
<rect x="1720" y="338" width="2" height="85" fill="#F23645"/>
<rect x="1717" y="349" width="8" height="19" fill="#F23645"/>
<rect x="1728" y="302" width="2" height="90" fill="#089981"/>
<rect x="1725" y="310" width="8" height="58" fill="#089981"/>
<rect x="1727" y="312" width="4" height="54" fill="#2962FF"/>
<rect x="1737" y="255" width="2" height="59" fill="#089981"/>
<rect x="1734" y="298" width="8" height="12" fill="#089981"/>
<rect x="1736" y="300" width="4" height="8" fill="#2962FF"/>
<rect x="1745" y="292" width="2" height="39" fill="#F23645"/>
<rect x="1742" y="298" width="8" height="11" fill="#F23645"/>
<rect x="1754" y="295" width="2" height="63" fill="#F23645"/>
<rect x="1751" y="308" width="8" height="32" fill="#F23645"/>
<rect x="1763" y="310" width="2" height="53" fill="#089981"/>
<rect x="1760" y="317" width="8" height="23" fill="#089981"/>
<rect x="1762" y="319" width="4" height="19" fill="#2962FF"/>
<rect x="1771" y="296" width="2" height="64" fill="#F23645"/>
<rect x="1768" y="316" width="8" height="38" fill="#F23645"/>
<rect x="1780" y="344" width="2" height="54" fill="#F23645"/>
<rect x="1777" y="353" width="8" height="45" fill="#F23645"/>
<rect x="1788" y="392" width="2" height="92" fill="#F23645"/>
<rect x="1785" y="397" width="8" height="66" fill="#F23645"/>
<rect x="1797" y="448" width="2" height="84" fill="#F23645"/>
<rect x="1794" y="462" width="8" height="51" fill="#F23645"/>
<rect x="1805" y="495" width="2" height="90" fill="#089981"/>
<rect x="1802" y="501" width="8" height="12" fill="#089981"/>
<rect x="1804" y="503" width="4" height="8" fill="#2962FF"/>
<rect x="1814" y="454" width="2" height="81" fill="#F23645"/>
<rect x="1811" y="502" width="8" height="23" fill="#F23645"/>
<rect x="1822" y="505" width="2" height="34" fill="#F23645"/>
<rect x="1819" y="524" width="8" height="4" fill="#F23645"/>
<rect x="1831" y="472" width="2" height="68" fill="#089981"/>
<rect x="1828" y="482" width="8" height="46" fill="#089981"/>
<rect x="1830" y="484" width="4" height="42" fill="#2962FF"/>
<rect x="1839" y="456" width="2" height="46" fill="#089981"/>
<rect x="1836" y="467" width="8" height="16" fill="#089981"/>
<rect x="1838" y="469" width="4" height="12" fill="#2962FF"/>
<rect x="1848" y="465" width="2" height="28" fill="#F23645"/>
<rect x="1845" y="467" width="8" height="19" fill="#F23645"/>
<rect x="1856" y="477" width="2" height="58" fill="#F23645"/>
<rect x="1853" y="484" width="8" height="44" fill="#F23645"/>
<rect x="1865" y="503" width="2" height="34" fill="#F23645"/>
<rect x="1862" y="527" width="8" height="5" fill="#F23645"/>
<rect x="1874" y="513" width="2" height="30" fill="#089981"/>
<rect x="1871" y="520" width="8" height="12" fill="#089981"/>
<rect x="1873" y="522" width="4" height="8" fill="#2962FF"/>
<rect x="1882" y="514" width="2" height="31" fill="#F23645"/>
<rect x="1879" y="519" width="8" height="21" fill="#F23645"/>
<rect x="1891" y="519" width="2" height="40" fill="#F23645"/>
<rect x="1888" y="539" width="8" height="9" fill="#F23645"/>
<rect x="1899" y="533" width="2" height="30" fill="#F23645"/>
<rect x="1896" y="547" width="8" height="10" fill="#F23645"/>
<rect x="1908" y="521" width="2" height="42" fill="#089981"/>
<rect x="1905" y="526" width="8" height="30" fill="#089981"/>
<rect x="1907" y="528" width="4" height="26" fill="#2962FF"/>
<rect x="1916" y="502" width="2" height="24" fill="#089981"/>
<rect x="1913" y="515" width="8" height="11" fill="#089981"/>
<rect x="1915" y="517" width="4" height="7" fill="#2962FF"/>
<rect x="1925" y="477" width="2" height="50" fill="#089981"/>
<rect x="1922" y="481" width="8" height="34" fill="#089981"/>
<rect x="1924" y="483" width="4" height="30" fill="#2962FF"/>
<rect x="1933" y="454" width="2" height="37" fill="#089981"/>
<rect x="1930" y="465" width="8" height="17" fill="#089981"/>
<rect x="1932" y="467" width="4" height="13" fill="#2962FF"/>
<rect x="1942" y="465" width="2" height="26" fill="#F23645"/>
<rect x="1939" y="465" width="8" height="14" fill="#F23645"/>
<rect x="1950" y="455" width="2" height="39" fill="#089981"/>
<rect x="1947" y="473" width="8" height="6" fill="#089981"/>
<rect x="1949" y="475" width="4" height="2" fill="#2962FF"/>
<rect x="1959" y="469" width="2" height="66" fill="#F23645"/>
<rect x="1956" y="472" width="8" height="63" fill="#F23645"/>
<rect x="1967" y="528" width="2" height="55" fill="#F23645"/>
<rect x="1964" y="533" width="8" height="23" fill="#F23645"/>
<rect x="1976" y="550" width="2" height="41" fill="#F23645"/>
<rect x="1973" y="557" width="8" height="25" fill="#F23645"/>
<rect x="1985" y="557" width="2" height="26" fill="#089981"/>
<rect x="1982" y="563" width="8" height="19" fill="#089981"/>
<rect x="1984" y="565" width="4" height="15" fill="#2962FF"/>
<rect x="1993" y="556" width="2" height="18" fill="#F23645"/>
<rect x="1990" y="562" width="8" height="2" fill="#F23645"/>
<rect x="2002" y="558" width="2" height="21" fill="#F23645"/>
<rect x="1999" y="564" width="8" height="9" fill="#F23645"/>
<rect x="2010" y="560" width="2" height="65" fill="#F23645"/>
<rect x="2007" y="571" width="8" height="23" fill="#F23645"/>
<rect x="2019" y="572" width="2" height="24" fill="#089981"/>
<rect x="2016" y="578" width="8" height="16" fill="#089981"/>
<rect x="2018" y="580" width="4" height="12" fill="#2962FF"/>
<rect x="2027" y="541" width="2" height="49" fill="#089981"/>
<rect x="2024" y="543" width="8" height="34" fill="#089981"/>
<rect x="2026" y="545" width="4" height="30" fill="#2962FF"/>
<rect x="2036" y="507" width="2" height="55" fill="#F23645"/>
<rect x="2033" y="543" width="8" height="4" fill="#F23645"/>
<rect x="2044" y="516" width="2" height="31" fill="#089981"/>
<rect x="2041" y="522" width="8" height="25" fill="#089981"/>
<rect x="2043" y="524" width="4" height="21" fill="#2962FF"/>
<rect x="2053" y="508" width="2" height="62" fill="#F23645"/>
<rect x="2050" y="522" width="8" height="38" fill="#F23645"/>
<rect x="2061" y="547" width="2" height="75" fill="#F23645"/>
<rect x="2058" y="559" width="8" height="56" fill="#F23645"/>
<rect x="2070" y="563" width="2" height="69" fill="#089981"/>
<rect x="2067" y="610" width="8" height="4" fill="#089981"/>
<rect x="2079" y="584" width="2" height="46" fill="#089981"/>
<rect x="2076" y="598" width="8" height="12" fill="#089981"/>
<rect x="2078" y="600" width="4" height="8" fill="#2962FF"/>
<rect x="2087" y="596" width="2" height="19" fill="#F23645"/>
<rect x="2084" y="598" width="8" height="17" fill="#F23645"/>
<rect x="2096" y="606" width="2" height="28" fill="#F23645"/>
<rect x="2093" y="614" width="8" height="6" fill="#F23645"/>
<rect x="2104" y="599" width="2" height="37" fill="#F23645"/>
<rect x="2101" y="620" width="8" height="2" fill="#F23645"/>
<rect x="2113" y="609" width="2" height="21" fill="#089981"/>
<rect x="2110" y="617" width="8" height="5" fill="#089981"/>
<rect x="2112" y="619" width="4" height="1" fill="#2962FF"/>
<rect x="2121" y="598" width="2" height="28" fill="#F23645"/>
<rect x="2118" y="617" width="8" height="9" fill="#F23645"/>
<rect x="2130" y="625" width="2" height="49" fill="#F23645"/>
<rect x="2127" y="626" width="8" height="23" fill="#F23645"/>
<rect x="2138" y="645" width="2" height="35" fill="#F23645"/>
<rect x="2135" y="649" width="8" height="29" fill="#F23645"/>
<rect x="2147" y="650" width="2" height="30" fill="#089981"/>
<rect x="2144" y="664" width="8" height="14" fill="#089981"/>
<rect x="2146" y="666" width="4" height="10" fill="#2962FF"/>
<rect x="2155" y="627" width="2" height="40" fill="#089981"/>
<rect x="2152" y="634" width="8" height="30" fill="#089981"/>
<rect x="2154" y="636" width="4" height="26" fill="#2962FF"/>
<rect x="2164" y="613" width="2" height="29" fill="#089981"/>
<rect x="2161" y="632" width="8" height="2" fill="#089981"/>
<rect x="2172" y="628" width="2" height="45" fill="#F23645"/>
<rect x="2169" y="631" width="8" height="42" fill="#F23645"/>
<rect x="2181" y="664" width="2" height="79" fill="#F23645"/>
<rect x="2178" y="672" width="8" height="54" fill="#F23645"/>
<rect x="2190" y="719" width="2" height="84" fill="#089981"/>
<rect x="2187" y="723" width="8" height="2" fill="#089981"/>
<rect x="2198" y="719" width="2" height="35" fill="#F23645"/>
<rect x="2195" y="723" width="8" height="18" fill="#F23645"/>
<rect x="2207" y="733" width="2" height="22" fill="#F23645"/>
<rect x="2204" y="740" width="8" height="13" fill="#F23645"/>
<rect x="2215" y="739" width="2" height="32" fill="#F23645"/>
<rect x="2212" y="753" width="8" height="16" fill="#F23645"/>
<rect x="2224" y="746" width="2" height="32" fill="#F23645"/>
<rect x="2221" y="767" width="8" height="2" fill="#F23645"/>
<rect x="2232" y="756" width="2" height="16" fill="#089981"/>
<rect x="2229" y="757" width="8" height="14" fill="#089981"/>
<rect x="2231" y="759" width="4" height="10" fill="#2962FF"/>
<rect x="2241" y="751" width="2" height="22" fill="#F23645"/>
<rect x="2238" y="757" width="8" height="4" fill="#F23645"/>
<rect x="2249" y="746" width="2" height="25" fill="#089981"/>
<rect x="2246" y="750" width="8" height="10" fill="#089981"/>
<rect x="2248" y="752" width="4" height="6" fill="#2962FF"/>
<rect x="2258" y="735" width="2" height="26" fill="#F23645"/>
<rect x="2255" y="750" width="8" height="8" fill="#F23645"/>
<rect x="2266" y="736" width="2" height="35" fill="#089981"/>
<rect x="2263" y="741" width="8" height="17" fill="#089981"/>
<rect x="2265" y="743" width="4" height="13" fill="#2962FF"/>
<rect x="2275" y="736" width="2" height="21" fill="#F23645"/>
<rect x="2272" y="741" width="8" height="9" fill="#F23645"/>
<rect x="2283" y="730" width="2" height="20" fill="#089981"/>
<rect x="2280" y="739" width="8" height="11" fill="#089981"/>
<rect x="2282" y="741" width="4" height="7" fill="#2962FF"/>
<rect x="2292" y="736" width="2" height="11" fill="#F23645"/>
<rect x="2289" y="739" width="8" height="8" fill="#F23645"/>
<rect x="2301" y="741" width="2" height="12" fill="#F23645"/>
<rect x="2298" y="746" width="8" height="6" fill="#F23645"/>
<rect x="2309" y="742" width="2" height="16" fill="#F23645"/>
<rect x="2306" y="751" width="8" height="3" fill="#F23645"/>
<rect x="2318" y="753" width="2" height="21" fill="#F23645"/>
<rect x="2315" y="754" width="8" height="12" fill="#F23645"/>
<rect x="2326" y="745" width="2" height="23" fill="#089981"/>
<rect x="2323" y="754" width="8" height="12" fill="#089981"/>
<rect x="2325" y="756" width="4" height="8" fill="#2962FF"/>
<rect x="2335" y="702" width="2" height="53" fill="#089981"/>
<rect x="2332" y="711" width="8" height="43" fill="#089981"/>
<rect x="2334" y="713" width="4" height="39" fill="#2962FF"/>
<rect x="2343" y="688" width="2" height="44" fill="#F23645"/>
<rect x="2340" y="711" width="8" height="14" fill="#F23645"/>
<rect x="2352" y="681" width="2" height="46" fill="#089981"/>
<rect x="2349" y="695" width="8" height="30" fill="#089981"/>
<rect x="2351" y="697" width="4" height="26" fill="#2962FF"/>
<rect x="2360" y="688" width="2" height="20" fill="#089981"/>
<rect x="2357" y="693" width="8" height="2" fill="#089981"/>
<rect x="2369" y="679" width="2" height="44" fill="#F23645"/>
<rect x="2366" y="693" width="8" height="17" fill="#F23645"/>
<rect x="2377" y="689" width="2" height="48" fill="#089981"/>
<rect x="2374" y="699" width="8" height="12" fill="#089981"/>
<rect x="2376" y="701" width="4" height="8" fill="#2962FF"/>
<rect x="2386" y="683" width="2" height="33" fill="#F23645"/>
<rect x="2383" y="699" width="8" height="9" fill="#F23645"/>
<rect x="2395" y="702" width="2" height="23" fill="#F23645"/>
<rect x="2392" y="707" width="8" height="14" fill="#F23645"/>
<rect x="2403" y="721" width="2" height="31" fill="#F23645"/>
<rect x="2400" y="721" width="8" height="10" fill="#F23645"/>
<rect x="2412" y="718" width="2" height="21" fill="#F23645"/>
<rect x="2409" y="730" width="8" height="3" fill="#F23645"/>
<rect x="2420" y="701" width="2" height="38" fill="#089981"/>
<rect x="2417" y="706" width="8" height="27" fill="#089981"/>
<rect x="2419" y="708" width="4" height="23" fill="#2962FF"/>
<rect x="2429" y="705" width="2" height="55" fill="#F23645"/>
<rect x="2426" y="706" width="8" height="52" fill="#F23645"/>
<rect x="2437" y="756" width="2" height="30" fill="#F23645"/>
<rect x="2434" y="757" width="8" height="6" fill="#F23645"/>
<rect x="2446" y="745" width="2" height="23" fill="#089981"/>
<rect x="2443" y="750" width="8" height="13" fill="#089981"/>
<rect x="2445" y="752" width="4" height="9" fill="#2962FF"/>
<rect x="2454" y="738" width="2" height="22" fill="#F23645"/>
<rect x="2451" y="750" width="8" height="10" fill="#F23645"/>
<rect x="2463" y="748" width="2" height="27" fill="#F23645"/>
<rect x="2460" y="759" width="8" height="2" fill="#F23645"/>
<rect x="2471" y="758" width="2" height="20" fill="#F23645"/>
<rect x="2468" y="761" width="8" height="12" fill="#F23645"/>
<rect x="2480" y="763" width="2" height="30" fill="#F23645"/>
<rect x="2477" y="773" width="8" height="16" fill="#F23645"/>
<rect x="2488" y="783" width="2" height="33" fill="#F23645"/>
<rect x="2485" y="789" width="8" height="25" fill="#F23645"/>
<rect x="2497" y="794" width="2" height="30" fill="#089981"/>
<rect x="2494" y="800" width="8" height="13" fill="#089981"/>
<rect x="2496" y="802" width="4" height="9" fill="#2962FF"/>
<rect x="2506" y="796" width="2" height="21" fill="#F23645"/>
<rect x="2503" y="800" width="8" height="4" fill="#F23645"/>
<rect x="2514" y="796" width="2" height="17" fill="#089981"/>
<rect x="2511" y="803" width="8" height="2" fill="#089981"/>
<rect x="2523" y="782" width="2" height="21" fill="#089981"/>
<rect x="2520" y="786" width="8" height="17" fill="#089981"/>
<rect x="2522" y="788" width="4" height="13" fill="#2962FF"/>
<rect x="2531" y="782" width="2" height="10" fill="#089981"/>
<rect x="2528" y="783" width="8" height="3" fill="#089981"/>
<rect x="2540" y="782" width="2" height="15" fill="#F23645"/>
<rect x="2537" y="784" width="8" height="11" fill="#F23645"/>
<rect x="2548" y="786" width="2" height="11" fill="#089981"/>
<rect x="2545" y="790" width="8" height="5" fill="#089981"/>
<rect x="2547" y="792" width="4" height="1" fill="#2962FF"/>
<rect x="2557" y="788" width="2" height="13" fill="#F23645"/>
<rect x="2554" y="791" width="8" height="2" fill="#F23645"/>
<rect x="2565" y="786" width="2" height="9" fill="#089981"/>
<rect x="2562" y="787" width="8" height="7" fill="#089981"/>
<rect x="2564" y="789" width="4" height="3" fill="#2962FF"/>
<rect x="2574" y="785" width="2" height="15" fill="#F23645"/>
<rect x="2571" y="786" width="8" height="11" fill="#F23645"/>
<rect x="2582" y="796" width="2" height="10" fill="#F23645"/>
<rect x="2579" y="797" width="8" height="4" fill="#F23645"/>
<rect x="2591" y="794" width="2" height="7" fill="#089981"/>
<rect x="2588" y="800" width="8" height="2" fill="#089981"/>
<rect x="2599" y="796" width="2" height="5" fill="#089981"/>
<rect x="2596" y="798" width="8" height="2" fill="#089981"/>
<rect x="2608" y="785" width="2" height="18" fill="#089981"/>
<rect x="2605" y="788" width="8" height="11" fill="#089981"/>
<rect x="2607" y="790" width="4" height="7" fill="#2962FF"/>
<rect x="2617" y="778" width="2" height="14" fill="#089981"/>
<rect x="2614" y="781" width="8" height="7" fill="#089981"/>
<rect x="2616" y="783" width="4" height="3" fill="#2962FF"/>
<rect x="2625" y="768" width="2" height="17" fill="#089981"/>
<rect x="2622" y="779" width="8" height="2" fill="#089981"/>
<rect x="2634" y="772" width="2" height="9" fill="#089981"/>
<rect x="2631" y="778" width="8" height="3" fill="#089981"/>
<rect x="2642" y="777" width="2" height="27" fill="#F23645"/>
<rect x="2639" y="778" width="8" height="23" fill="#F23645"/>
<rect x="2651" y="799" width="2" height="21" fill="#F23645"/>
<rect x="2648" y="800" width="8" height="16" fill="#F23645"/>
<rect x="2659" y="811" width="2" height="11" fill="#F23645"/>
<rect x="2656" y="815" width="8" height="6" fill="#F23645"/>
<rect x="2668" y="820" width="2" height="10" fill="#F23645"/>
<rect x="2665" y="820" width="8" height="4" fill="#F23645"/>
<rect x="2676" y="810" width="2" height="14" fill="#089981"/>
<rect x="2673" y="820" width="8" height="4" fill="#089981"/>
<rect x="2685" y="816" width="2" height="23" fill="#F23645"/>
<rect x="2682" y="819" width="8" height="16" fill="#F23645"/>
<rect x="2693" y="828" width="2" height="14" fill="#089981"/>
<rect x="2690" y="832" width="8" height="2" fill="#089981"/>
<rect x="2702" y="831" width="2" height="8" fill="#F23645"/>
<rect x="2699" y="832" width="8" height="2" fill="#F23645"/>
<rect x="2711" y="831" width="2" height="6" fill="#F23645"/>
<rect x="2708" y="833" width="8" height="2" fill="#F23645"/>
<rect x="2719" y="835" width="2" height="25" fill="#F23645"/>
<rect x="2716" y="835" width="8" height="23" fill="#F23645"/>
<rect x="2728" y="848" width="2" height="26" fill="#089981"/>
<rect x="2725" y="852" width="8" height="5" fill="#089981"/>
<rect x="2727" y="854" width="4" height="1" fill="#2962FF"/>
<rect x="2736" y="846" width="2" height="16" fill="#F23645"/>
<rect x="2733" y="851" width="8" height="11" fill="#F23645"/>
<rect x="2745" y="838" width="2" height="30" fill="#089981"/>
<rect x="2742" y="845" width="8" height="17" fill="#089981"/>
<rect x="2744" y="847" width="4" height="13" fill="#2962FF"/>
<rect x="2753" y="844" width="2" height="12" fill="#F23645"/>
<rect x="2750" y="844" width="8" height="9" fill="#F23645"/>
<rect x="2762" y="841" width="2" height="11" fill="#089981"/>
<rect x="2759" y="845" width="8" height="7" fill="#089981"/>
<rect x="2761" y="847" width="4" height="3" fill="#2962FF"/>
<rect x="2770" y="803" width="2" height="42" fill="#089981"/>
<rect x="2767" y="811" width="8" height="34" fill="#089981"/>
<rect x="2769" y="813" width="4" height="30" fill="#2962FF"/>
<rect x="2779" y="809" width="2" height="17" fill="#F23645"/>
<rect x="2776" y="810" width="8" height="14" fill="#F23645"/>
<rect x="2787" y="804" width="2" height="20" fill="#089981"/>
<rect x="2784" y="821" width="8" height="2" fill="#089981"/>
<rect x="2796" y="811" width="2" height="17" fill="#F23645"/>
<rect x="2793" y="820" width="8" height="8" fill="#F23645"/>
<rect x="2804" y="821" width="2" height="14" fill="#F23645"/>
<rect x="2801" y="828" width="8" height="2" fill="#F23645"/>
<rect x="2813" y="823" width="2" height="9" fill="#089981"/>
<rect x="2810" y="828" width="8" height="2" fill="#089981"/>
<rect x="2822" y="822" width="2" height="10" fill="#089981"/>
<rect x="2819" y="827" width="8" height="2" fill="#089981"/>
<rect x="2830" y="821" width="2" height="9" fill="#089981"/>
<rect x="2827" y="823" width="8" height="4" fill="#089981"/>
<rect x="2839" y="820" width="2" height="7" fill="#F23645"/>
<rect x="2836" y="822" width="8" height="3" fill="#F23645"/>
<rect x="2847" y="811" width="2" height="14" fill="#089981"/>
<rect x="2844" y="820" width="8" height="5" fill="#089981"/>
<rect x="2846" y="822" width="4" height="1" fill="#2962FF"/>
<rect x="2856" y="802" width="2" height="20" fill="#089981"/>
<rect x="2853" y="804" width="8" height="15" fill="#089981"/>
<rect x="2855" y="806" width="4" height="11" fill="#2962FF"/>
<rect x="2864" y="791" width="2" height="12" fill="#089981"/>
<rect x="2861" y="798" width="8" height="5" fill="#089981"/>
<rect x="2863" y="800" width="4" height="1" fill="#2962FF"/>
<rect x="2873" y="786" width="2" height="19" fill="#089981"/>
<rect x="2870" y="788" width="8" height="9" fill="#089981"/>
<rect x="2872" y="790" width="4" height="5" fill="#2962FF"/>
<rect x="2881" y="778" width="2" height="14" fill="#089981"/>
<rect x="2878" y="786" width="8" height="2" fill="#089981"/>
<rect x="2890" y="776" width="2" height="13" fill="#089981"/>
<rect x="2887" y="783" width="8" height="2" fill="#089981"/>
<rect x="2898" y="782" width="2" height="12" fill="#F23645"/>
<rect x="2895" y="784" width="8" height="7" fill="#F23645"/>
<rect x="2907" y="769" width="2" height="27" fill="#089981"/>
<rect x="2904" y="772" width="8" height="19" fill="#089981"/>
<rect x="2906" y="774" width="4" height="15" fill="#2962FF"/>
<rect x="2915" y="761" width="2" height="19" fill="#F23645"/>
<rect x="2912" y="772" width="8" height="5" fill="#F23645"/>
<rect x="2924" y="771" width="2" height="12" fill="#089981"/>
<rect x="2921" y="776" width="8" height="2" fill="#089981"/>
<rect x="2933" y="747" width="2" height="29" fill="#089981"/>
<rect x="2930" y="760" width="8" height="16" fill="#089981"/>
<rect x="2932" y="762" width="4" height="12" fill="#2962FF"/>
<rect x="2941" y="757" width="2" height="12" fill="#F23645"/>
<rect x="2938" y="760" width="8" height="6" fill="#F23645"/>
<rect x="2950" y="762" width="2" height="21" fill="#F23645"/>
<rect x="2947" y="766" width="8" height="17" fill="#F23645"/>
<rect x="2958" y="778" width="2" height="10" fill="#F23645"/>
<rect x="2955" y="783" width="8" height="4" fill="#F23645"/>
<rect x="2967" y="781" width="2" height="11" fill="#F23645"/>
<rect x="2964" y="787" width="8" height="2" fill="#F23645"/>
<rect x="2975" y="788" width="2" height="14" fill="#F23645"/>
<rect x="2972" y="789" width="8" height="5" fill="#F23645"/>
<rect x="2984" y="790" width="2" height="7" fill="#089981"/>
<rect x="2981" y="791" width="8" height="2" fill="#089981"/>
<rect x="2992" y="750" width="2" height="42" fill="#089981"/>
<rect x="2989" y="755" width="8" height="37" fill="#089981"/>
<rect x="2991" y="757" width="4" height="33" fill="#2962FF"/>
<rect x="3001" y="733" width="2" height="23" fill="#089981"/>
<rect x="2998" y="739" width="8" height="15" fill="#089981"/>
<rect x="3000" y="741" width="4" height="11" fill="#2962FF"/>
<rect x="3009" y="701" width="2" height="38" fill="#089981"/>
<rect x="3006" y="702" width="8" height="37" fill="#089981"/>
<rect x="3008" y="704" width="4" height="33" fill="#2962FF"/>
<rect x="3018" y="701" width="2" height="26" fill="#F23645"/>
<rect x="3015" y="703" width="8" height="16" fill="#F23645"/>
<rect x="3027" y="701" width="2" height="32" fill="#089981"/>
<rect x="3024" y="718" width="8" height="2" fill="#089981"/>
<rect x="3035" y="707" width="2" height="25" fill="#089981"/>
<rect x="3032" y="716" width="8" height="2" fill="#089981"/>
<rect x="3044" y="713" width="2" height="18" fill="#F23645"/>
<rect x="3041" y="715" width="8" height="15" fill="#F23645"/>
<rect x="3052" y="725" width="2" height="28" fill="#F23645"/>
<rect x="3049" y="730" width="8" height="16" fill="#F23645"/>
<rect x="3061" y="738" width="2" height="17" fill="#F23645"/>
<rect x="3058" y="746" width="8" height="9" fill="#F23645"/>
<rect x="3069" y="755" width="2" height="11" fill="#F23645"/>
<rect x="3066" y="755" width="8" height="5" fill="#F23645"/>
<rect x="3078" y="743" width="2" height="25" fill="#089981"/>
<rect x="3075" y="753" width="8" height="7" fill="#089981"/>
<rect x="3077" y="755" width="4" height="3" fill="#2962FF"/>
<rect x="3086" y="751" width="2" height="24" fill="#F23645"/>
<rect x="3083" y="752" width="8" height="12" fill="#F23645"/>
<rect x="3095" y="756" width="2" height="12" fill="#089981"/>
<rect x="3092" y="760" width="8" height="2" fill="#089981"/>
<rect x="3103" y="747" width="2" height="18" fill="#089981"/>
<rect x="3100" y="755" width="8" height="6" fill="#089981"/>
<rect x="3102" y="757" width="4" height="2" fill="#2962FF"/>
<rect x="3112" y="735" width="2" height="19" fill="#089981"/>
<rect x="3109" y="738" width="8" height="16" fill="#089981"/>
<rect x="3111" y="740" width="4" height="12" fill="#2962FF"/>
<rect x="3120" y="727" width="2" height="33" fill="#F23645"/>
<rect x="3117" y="738" width="8" height="21" fill="#F23645"/>
<rect x="3129" y="752" width="2" height="10" fill="#F23645"/>
<rect x="3126" y="759" width="8" height="3" fill="#F23645"/>
<rect x="3138" y="760" width="2" height="16" fill="#F23645"/>
<rect x="3135" y="763" width="8" height="2" fill="#F23645"/>
<rect x="3146" y="756" width="2" height="12" fill="#089981"/>
<rect x="3143" y="764" width="8" height="2" fill="#089981"/>
<rect x="3155" y="754" width="2" height="18" fill="#089981"/>
<rect x="3152" y="759" width="8" height="8" fill="#089981"/>
<rect x="3154" y="761" width="4" height="4" fill="#2962FF"/>
<rect x="3163" y="755" width="2" height="17" fill="#F23645"/>
<rect x="3160" y="759" width="8" height="3" fill="#F23645"/>
<rect x="3172" y="750" width="2" height="27" fill="#F23645"/>
<rect x="3169" y="762" width="8" height="13" fill="#F23645"/>
<rect x="3180" y="772" width="2" height="29" fill="#F23645"/>
<rect x="3177" y="774" width="8" height="26" fill="#F23645"/>
<rect x="3189" y="795" width="2" height="12" fill="#089981"/>
<rect x="3186" y="796" width="8" height="2" fill="#089981"/>
<rect x="3197" y="794" width="2" height="10" fill="#089981"/>
<rect x="3194" y="795" width="8" height="2" fill="#089981"/>
<rect x="3206" y="790" width="2" height="14" fill="#089981"/>
<rect x="3203" y="792" width="8" height="4" fill="#089981"/>
<rect x="3214" y="785" width="2" height="8" fill="#F23645"/>
<rect x="3211" y="791" width="8" height="2" fill="#F23645"/>
<rect x="3223" y="788" width="2" height="12" fill="#F23645"/>
<rect x="3220" y="792" width="8" height="7" fill="#F23645"/>
<rect x="3231" y="796" width="2" height="22" fill="#F23645"/>
<rect x="3228" y="799" width="8" height="17" fill="#F23645"/>
<rect x="3240" y="802" width="2" height="15" fill="#089981"/>
<rect x="3237" y="809" width="8" height="7" fill="#089981"/>
<rect x="3239" y="811" width="4" height="3" fill="#2962FF"/>
<rect x="3249" y="799" width="2" height="10" fill="#089981"/>
<rect x="3246" y="802" width="8" height="7" fill="#089981"/>
<rect x="3248" y="804" width="4" height="3" fill="#2962FF"/>
<rect x="3257" y="800" width="2" height="7" fill="#F23645"/>
<rect x="3254" y="801" width="8" height="2" fill="#F23645"/>
<rect x="3266" y="793" width="2" height="12" fill="#089981"/>
<rect x="3263" y="793" width="8" height="12" fill="#089981"/>
<rect x="3265" y="795" width="4" height="8" fill="#2962FF"/>
<rect x="3274" y="779" width="2" height="19" fill="#089981"/>
<rect x="3271" y="780" width="8" height="13" fill="#089981"/>
<rect x="3273" y="782" width="4" height="9" fill="#2962FF"/>
<rect x="3283" y="778" width="2" height="17" fill="#F23645"/>
<rect x="3280" y="780" width="8" height="12" fill="#F23645"/>
<rect x="3291" y="791" width="2" height="18" fill="#F23645"/>
<rect x="3288" y="792" width="8" height="17" fill="#F23645"/>
<rect x="3300" y="809" width="2" height="16" fill="#F23645"/>
<rect x="3297" y="809" width="8" height="6" fill="#F23645"/>
<rect x="3308" y="814" width="2" height="10" fill="#F23645"/>
<rect x="3305" y="815" width="8" height="4" fill="#F23645"/>
<rect x="3317" y="816" width="2" height="6" fill="#089981"/>
<rect x="3314" y="818" width="8" height="2" fill="#089981"/>
<rect x="3325" y="808" width="2" height="13" fill="#F23645"/>
<rect x="3322" y="818" width="8" height="2" fill="#F23645"/>
<rect x="3334" y="816" width="2" height="16" fill="#F23645"/>
<rect x="3331" y="819" width="8" height="13" fill="#F23645"/></g>
<g stroke="#E91E63" stroke-width="3.2" stroke-linecap="round" fill="none"><line x1="2446.5" y1="694" x2="2566.5" y2="694"/><line x1="2446.5" y1="876" x2="2566.5" y2="876"/><line x1="2506.5" y1="695" x2="2506.5" y2="876"/><polyline points="2485.5,714.5 2506.5,695 2526.5,714.5" stroke-linejoin="round"/></g>
<rect x="2345" y="626.5" width="324" height="50" rx="7" fill="#000" opacity="0.13" filter="url(#blur)"/>
<rect x="2345" y="624" width="323.7" height="50" rx="6.5" fill="#2196F3" fill-opacity="0.9"/>
<text x="2363.8" y="657.9" font-size="24" fill="#000" textLength="286.7" lengthAdjust="spacingAndGlyphs">0.1515 (117.60%) 1,515</text>
</g><g clip-path="url(#clipM)">
<rect x="18" y="1192.3" width="7" height="16.7" fill="#B2DFDB"/>
<rect x="27" y="1193.0" width="6" height="16.0" fill="#B2DFDB"/>
<rect x="35" y="1186.9" width="7" height="22.1" fill="#26A69A"/>
<rect x="44" y="1190.1" width="6" height="18.9" fill="#B2DFDB"/>
<rect x="52" y="1197.9" width="7" height="11.1" fill="#B2DFDB"/>
<rect x="61" y="1204.1" width="7" height="4.9" fill="#B2DFDB"/>
<rect x="69" y="1207.0" width="7" height="1.6" fill="#FF5252"/>
<rect x="78" y="1207.0" width="7" height="7.0" fill="#FF5252"/>
<rect x="86" y="1207.0" width="7" height="12.8" fill="#FF5252"/>
<rect x="95" y="1207.0" width="7" height="9.9" fill="#FFCDD2"/>
<rect x="103" y="1207.0" width="7" height="3.4" fill="#FFCDD2"/>
<rect x="112" y="1204.8" width="7" height="4.2" fill="#26A69A"/>
<rect x="121" y="1205.0" width="6" height="4.0" fill="#B2DFDB"/>
<rect x="129" y="1200.8" width="7" height="8.2" fill="#26A69A"/>
<rect x="138" y="1205.8" width="6" height="3.2" fill="#B2DFDB"/>
<rect x="146" y="1206.6" width="7" height="2.4" fill="#B2DFDB"/>
<rect x="155" y="1207.0" width="6" height="4.0" fill="#FF5252"/>
<rect x="163" y="1207.0" width="7" height="11.7" fill="#FF5252"/>
<rect x="172" y="1207.0" width="7" height="10.6" fill="#FFCDD2"/>
<rect x="180" y="1207.0" width="7" height="16.9" fill="#FF5252"/>
<rect x="189" y="1207.0" width="7" height="24.5" fill="#FF5252"/>
<rect x="197" y="1207.0" width="7" height="28.3" fill="#FF5252"/>
<rect x="206" y="1207.0" width="7" height="29.0" fill="#FF5252"/>
<rect x="214" y="1207.0" width="7" height="34.9" fill="#FF5252"/>
<rect x="223" y="1207.0" width="7" height="43.4" fill="#FF5252"/>
<rect x="232" y="1207.0" width="6" height="42.4" fill="#FFCDD2"/>
<rect x="240" y="1207.0" width="7" height="38.3" fill="#FFCDD2"/>
<rect x="249" y="1207.0" width="6" height="32.3" fill="#FFCDD2"/>
<rect x="257" y="1207.0" width="7" height="28.1" fill="#FFCDD2"/>
<rect x="266" y="1207.0" width="7" height="23.9" fill="#FFCDD2"/>
<rect x="274" y="1207.0" width="7" height="15.6" fill="#FFCDD2"/>
<rect x="283" y="1207.0" width="7" height="6.4" fill="#FFCDD2"/>
<rect x="291" y="1207.0" width="7" height="3.9" fill="#FFCDD2"/>
<rect x="300" y="1206.2" width="7" height="2.8" fill="#26A69A"/>
<rect x="308" y="1206.4" width="7" height="2.6" fill="#B2DFDB"/>
<rect x="317" y="1207.2" width="7" height="1.8" fill="#B2DFDB"/>
<rect x="326" y="1204.7" width="6" height="4.3" fill="#26A69A"/>
<rect x="334" y="1203.8" width="7" height="5.2" fill="#26A69A"/>
<rect x="343" y="1200.9" width="6" height="8.1" fill="#26A69A"/>
<rect x="351" y="1204.2" width="7" height="4.8" fill="#B2DFDB"/>
<rect x="360" y="1207.0" width="6" height="5.8" fill="#FF5252"/>
<rect x="368" y="1207.0" width="7" height="10.2" fill="#FF5252"/>
<rect x="377" y="1207.0" width="7" height="8.0" fill="#FFCDD2"/>
<rect x="385" y="1207.0" width="7" height="11.4" fill="#FF5252"/>
<rect x="394" y="1207.0" width="7" height="6.0" fill="#FFCDD2"/>
<rect x="402" y="1198.2" width="7" height="10.8" fill="#26A69A"/>
<rect x="411" y="1187.9" width="7" height="21.1" fill="#26A69A"/>
<rect x="419" y="1186.2" width="7" height="22.8" fill="#26A69A"/>
<rect x="428" y="1184.9" width="7" height="24.1" fill="#26A69A"/>
<rect x="437" y="1183.8" width="6" height="25.2" fill="#26A69A"/>
<rect x="445" y="1180.7" width="7" height="28.3" fill="#26A69A"/>
<rect x="454" y="1173.3" width="6" height="35.7" fill="#26A69A"/>
<rect x="462" y="1168.5" width="7" height="40.5" fill="#26A69A"/>
<rect x="471" y="1169.3" width="6" height="39.7" fill="#B2DFDB"/>
<rect x="479" y="1171.0" width="7" height="38.0" fill="#B2DFDB"/>
<rect x="488" y="1166.2" width="7" height="42.8" fill="#26A69A"/>
<rect x="496" y="1162.1" width="7" height="46.9" fill="#26A69A"/>
<rect x="505" y="1162.4" width="7" height="46.6" fill="#B2DFDB"/>
<rect x="513" y="1164.3" width="7" height="44.7" fill="#B2DFDB"/>
<rect x="522" y="1171.8" width="7" height="37.2" fill="#B2DFDB"/>
<rect x="530" y="1182.4" width="7" height="26.6" fill="#B2DFDB"/>
<rect x="539" y="1190.6" width="7" height="18.4" fill="#B2DFDB"/>
<rect x="548" y="1192.9" width="6" height="16.1" fill="#B2DFDB"/>
<rect x="556" y="1196.7" width="7" height="12.3" fill="#B2DFDB"/>
<rect x="565" y="1202.5" width="6" height="6.5" fill="#B2DFDB"/>
<rect x="573" y="1206.5" width="7" height="2.5" fill="#B2DFDB"/>
<rect x="582" y="1207.0" width="7" height="6.1" fill="#FF5252"/>
<rect x="590" y="1207.0" width="7" height="13.4" fill="#FF5252"/>
<rect x="599" y="1207.0" width="7" height="20.2" fill="#FF5252"/>
<rect x="607" y="1207.0" width="7" height="28.4" fill="#FF5252"/>
<rect x="616" y="1207.0" width="7" height="34.6" fill="#FF5252"/>
<rect x="624" y="1207.0" width="7" height="40.3" fill="#FF5252"/>
<rect x="633" y="1207.0" width="7" height="46.2" fill="#FF5252"/>
<rect x="642" y="1207.0" width="6" height="43.9" fill="#FFCDD2"/>
<rect x="650" y="1207.0" width="7" height="41.2" fill="#FFCDD2"/>
<rect x="659" y="1207.0" width="6" height="25.3" fill="#FFCDD2"/>
<rect x="667" y="1207.0" width="7" height="13.8" fill="#FFCDD2"/>
<rect x="676" y="1207.0" width="6" height="3.3" fill="#FFCDD2"/>
<rect x="684" y="1207.0" width="7" height="2.6" fill="#FFCDD2"/>
<rect x="693" y="1200.6" width="7" height="8.4" fill="#26A69A"/>
<rect x="701" y="1196.9" width="7" height="12.1" fill="#26A69A"/>
<rect x="710" y="1197.1" width="7" height="11.9" fill="#B2DFDB"/>
<rect x="718" y="1198.7" width="7" height="10.3" fill="#B2DFDB"/>
<rect x="727" y="1201.4" width="7" height="7.6" fill="#B2DFDB"/>
<rect x="735" y="1202.1" width="7" height="6.9" fill="#B2DFDB"/>
<rect x="744" y="1203.3" width="7" height="5.7" fill="#B2DFDB"/>
<rect x="753" y="1203.3" width="6" height="5.7" fill="#B2DFDB"/>
<rect x="761" y="1203.8" width="7" height="5.2" fill="#B2DFDB"/>
<rect x="770" y="1200.6" width="6" height="8.4" fill="#26A69A"/>
<rect x="778" y="1197.6" width="7" height="11.4" fill="#26A69A"/>
<rect x="787" y="1186.6" width="6" height="22.4" fill="#26A69A"/>
<rect x="795" y="1176.4" width="7" height="32.6" fill="#26A69A"/>
<rect x="804" y="1170.7" width="7" height="38.3" fill="#26A69A"/>
<rect x="812" y="1172.5" width="7" height="36.5" fill="#B2DFDB"/>
<rect x="821" y="1179.3" width="7" height="29.7" fill="#B2DFDB"/>
<rect x="829" y="1186.8" width="7" height="22.2" fill="#B2DFDB"/>
<rect x="838" y="1193.0" width="7" height="16.0" fill="#B2DFDB"/>
<rect x="846" y="1199.7" width="7" height="9.3" fill="#B2DFDB"/>
<rect x="855" y="1206.3" width="7" height="2.7" fill="#B2DFDB"/>
<rect x="864" y="1207.0" width="6" height="7.4" fill="#FF5252"/>
<rect x="872" y="1207.0" width="7" height="8.2" fill="#FF5252"/>
<rect x="881" y="1207.0" width="6" height="12.7" fill="#FF5252"/>
<rect x="889" y="1207.0" width="7" height="12.7" fill="#FF5252"/>
<rect x="898" y="1207.0" width="7" height="13.9" fill="#FF5252"/>
<rect x="906" y="1207.0" width="7" height="14.3" fill="#FF5252"/>
<rect x="915" y="1207.0" width="7" height="12.8" fill="#FFCDD2"/>
<rect x="923" y="1207.0" width="7" height="8.2" fill="#FFCDD2"/>
<rect x="932" y="1207.0" width="7" height="1.6" fill="#FFCDD2"/>
<rect x="940" y="1204.3" width="7" height="4.7" fill="#26A69A"/>
<rect x="949" y="1204.4" width="7" height="4.6" fill="#B2DFDB"/>
<rect x="958" y="1200.3" width="6" height="8.7" fill="#26A69A"/>
<rect x="966" y="1197.4" width="7" height="11.6" fill="#26A69A"/>
<rect x="975" y="1197.5" width="6" height="11.5" fill="#B2DFDB"/>
<rect x="983" y="1197.6" width="7" height="11.4" fill="#B2DFDB"/>
<rect x="992" y="1204.3" width="6" height="4.7" fill="#B2DFDB"/>
<rect x="1000" y="1207.3" width="7" height="1.7" fill="#B2DFDB"/>
<rect x="1009" y="1202.2" width="7" height="6.8" fill="#26A69A"/>
<rect x="1017" y="1193.9" width="7" height="15.1" fill="#26A69A"/>
<rect x="1026" y="1185.9" width="7" height="23.1" fill="#26A69A"/>
<rect x="1034" y="1174.1" width="7" height="34.9" fill="#26A69A"/>
<rect x="1043" y="1172.6" width="7" height="36.4" fill="#26A69A"/>
<rect x="1051" y="1174.9" width="7" height="34.1" fill="#B2DFDB"/>
<rect x="1060" y="1164.3" width="7" height="44.7" fill="#26A69A"/>
<rect x="1069" y="1155.7" width="6" height="53.3" fill="#26A69A"/>
<rect x="1077" y="1150.8" width="7" height="58.2" fill="#26A69A"/>
<rect x="1086" y="1152.7" width="6" height="56.3" fill="#B2DFDB"/>
<rect x="1094" y="1160.9" width="7" height="48.1" fill="#B2DFDB"/>
<rect x="1103" y="1161.6" width="6" height="47.4" fill="#B2DFDB"/>
<rect x="1111" y="1169.8" width="7" height="39.2" fill="#B2DFDB"/>
<rect x="1120" y="1183.3" width="7" height="25.7" fill="#B2DFDB"/>
<rect x="1128" y="1197.1" width="7" height="11.9" fill="#B2DFDB"/>
<rect x="1137" y="1207.0" width="7" height="6.0" fill="#FF5252"/>
<rect x="1145" y="1207.0" width="7" height="11.9" fill="#FF5252"/>
<rect x="1154" y="1207.0" width="7" height="18.4" fill="#FF5252"/>
<rect x="1162" y="1207.0" width="7" height="16.3" fill="#FFCDD2"/>
<rect x="1171" y="1207.0" width="7" height="17.7" fill="#FF5252"/>
<rect x="1180" y="1207.0" width="6" height="17.6" fill="#FFCDD2"/>
<rect x="1188" y="1207.0" width="7" height="23.7" fill="#FF5252"/>
<rect x="1197" y="1207.0" width="6" height="25.8" fill="#FF5252"/>
<rect x="1205" y="1207.0" width="7" height="19.0" fill="#FFCDD2"/>
<rect x="1214" y="1207.0" width="7" height="7.5" fill="#FFCDD2"/>
<rect x="1222" y="1205.4" width="7" height="3.6" fill="#26A69A"/>
<rect x="1231" y="1200.0" width="7" height="9.0" fill="#26A69A"/>
<rect x="1239" y="1204.7" width="7" height="4.3" fill="#B2DFDB"/>
<rect x="1248" y="1207.0" width="7" height="5.2" fill="#FF5252"/>
<rect x="1256" y="1207.0" width="7" height="13.3" fill="#FF5252"/>
<rect x="1265" y="1207.0" width="7" height="15.5" fill="#FF5252"/>
<rect x="1274" y="1207.0" width="6" height="18.8" fill="#FF5252"/>
<rect x="1282" y="1207.0" width="7" height="16.9" fill="#FFCDD2"/>
<rect x="1291" y="1207.0" width="6" height="20.7" fill="#FF5252"/>
<rect x="1299" y="1207.0" width="7" height="22.1" fill="#FF5252"/>
<rect x="1308" y="1207.0" width="6" height="21.4" fill="#FFCDD2"/>
<rect x="1316" y="1207.0" width="7" height="23.4" fill="#FF5252"/>
<rect x="1325" y="1207.0" width="7" height="34.4" fill="#FF5252"/>
<rect x="1333" y="1207.0" width="7" height="38.7" fill="#FF5252"/>
<rect x="1342" y="1207.0" width="7" height="40.4" fill="#FF5252"/>
<rect x="1350" y="1207.0" width="7" height="40.1" fill="#FFCDD2"/>
<rect x="1359" y="1207.0" width="7" height="33.0" fill="#FFCDD2"/>
<rect x="1367" y="1207.0" width="7" height="24.6" fill="#FFCDD2"/>
<rect x="1376" y="1207.0" width="7" height="22.9" fill="#FFCDD2"/>
<rect x="1385" y="1207.0" width="6" height="21.8" fill="#FFCDD2"/>
<rect x="1393" y="1207.0" width="7" height="22.5" fill="#FF5252"/>
<rect x="1402" y="1207.0" width="6" height="25.3" fill="#FF5252"/>
<rect x="1410" y="1207.0" width="7" height="28.1" fill="#FF5252"/>
<rect x="1419" y="1207.0" width="6" height="25.1" fill="#FFCDD2"/>
<rect x="1427" y="1207.0" width="7" height="9.3" fill="#FFCDD2"/>
<rect x="1436" y="1204.4" width="7" height="4.6" fill="#26A69A"/>
<rect x="1444" y="1196.2" width="7" height="12.8" fill="#26A69A"/>
<rect x="1453" y="1184.6" width="7" height="24.4" fill="#26A69A"/>
<rect x="1461" y="1174.7" width="7" height="34.3" fill="#26A69A"/>
<rect x="1470" y="1160.2" width="7" height="48.8" fill="#26A69A"/>
<rect x="1478" y="1160.3" width="7" height="48.7" fill="#B2DFDB"/>
<rect x="1487" y="1169.5" width="7" height="39.5" fill="#B2DFDB"/>
<rect x="1496" y="1180.6" width="6" height="28.4" fill="#B2DFDB"/>
<rect x="1504" y="1184.3" width="7" height="24.7" fill="#B2DFDB"/>
<rect x="1513" y="1170.9" width="6" height="38.1" fill="#26A69A"/>
<rect x="1521" y="1173.7" width="7" height="35.3" fill="#B2DFDB"/>
<rect x="1530" y="1174.3" width="7" height="34.7" fill="#B2DFDB"/>
<rect x="1538" y="1182.1" width="7" height="26.9" fill="#B2DFDB"/>
<rect x="1547" y="1195.2" width="7" height="13.8" fill="#B2DFDB"/>
<rect x="1555" y="1199.8" width="7" height="9.2" fill="#B2DFDB"/>
<rect x="1564" y="1196.7" width="7" height="12.3" fill="#26A69A"/>
<rect x="1572" y="1192.1" width="7" height="16.9" fill="#26A69A"/>
<rect x="1581" y="1164.3" width="7" height="44.7" fill="#26A69A"/>
<rect x="1590" y="1151.4" width="6" height="57.6" fill="#26A69A"/>
<rect x="1598" y="1139.0" width="7" height="70.0" fill="#26A69A"/>
<rect x="1607" y="1140.2" width="6" height="68.8" fill="#B2DFDB"/>
<rect x="1615" y="1148.6" width="7" height="60.4" fill="#B2DFDB"/>
<rect x="1624" y="1155.1" width="6" height="53.9" fill="#B2DFDB"/>
<rect x="1632" y="1165.4" width="7" height="43.6" fill="#B2DFDB"/>
<rect x="1641" y="1178.3" width="7" height="30.7" fill="#B2DFDB"/>
<rect x="1649" y="1191.6" width="7" height="17.4" fill="#B2DFDB"/>
<rect x="1658" y="1191.7" width="7" height="17.3" fill="#B2DFDB"/>
<rect x="1666" y="1195.1" width="7" height="13.9" fill="#B2DFDB"/>
<rect x="1675" y="1197.3" width="7" height="11.7" fill="#B2DFDB"/>
<rect x="1683" y="1200.0" width="7" height="9.0" fill="#B2DFDB"/>
<rect x="1692" y="1206.3" width="7" height="2.7" fill="#B2DFDB"/>
<rect x="1701" y="1207.0" width="6" height="5.8" fill="#FF5252"/>
<rect x="1709" y="1207.0" width="7" height="37.3" fill="#FF5252"/>
<rect x="1718" y="1207.0" width="6" height="60.1" fill="#FF5252"/>
<rect x="1726" y="1207.0" width="7" height="62.8" fill="#FF5252"/>
<rect x="1735" y="1207.0" width="6" height="60.5" fill="#FFCDD2"/>
<rect x="1743" y="1207.0" width="7" height="59.0" fill="#FFCDD2"/>
<rect x="1752" y="1207.0" width="7" height="61.5" fill="#FF5252"/>
<rect x="1760" y="1207.0" width="7" height="57.0" fill="#FFCDD2"/>
<rect x="1769" y="1207.0" width="7" height="58.4" fill="#FF5252"/>
<rect x="1777" y="1207.0" width="7" height="64.7" fill="#FF5252"/>
<rect x="1786" y="1207.0" width="7" height="77.3" fill="#FF5252"/>
<rect x="1794" y="1207.0" width="7" height="90.3" fill="#FF5252"/>
<rect x="1803" y="1207.0" width="7" height="92.0" fill="#FF5252"/>
<rect x="1812" y="1207.0" width="6" height="92.3" fill="#FF5252"/>
<rect x="1820" y="1207.0" width="7" height="88.2" fill="#FFCDD2"/>
<rect x="1829" y="1207.0" width="6" height="72.6" fill="#FFCDD2"/>
<rect x="1837" y="1207.0" width="7" height="55.9" fill="#FFCDD2"/>
<rect x="1846" y="1207.0" width="7" height="45.0" fill="#FFCDD2"/>
<rect x="1854" y="1207.0" width="7" height="42.5" fill="#FFCDD2"/>
<rect x="1863" y="1207.0" width="7" height="38.6" fill="#FFCDD2"/>
<rect x="1871" y="1207.0" width="7" height="31.1" fill="#FFCDD2"/>
<rect x="1880" y="1207.0" width="7" height="27.2" fill="#FFCDD2"/>
<rect x="1888" y="1207.0" width="7" height="23.7" fill="#FFCDD2"/>
<rect x="1897" y="1207.0" width="7" height="20.7" fill="#FFCDD2"/>
<rect x="1905" y="1207.0" width="7" height="11.3" fill="#FFCDD2"/>
<rect x="1914" y="1207.0" width="7" height="1.6" fill="#FFCDD2"/>
<rect x="1923" y="1195.4" width="6" height="13.6" fill="#26A69A"/>
<rect x="1931" y="1183.9" width="7" height="25.1" fill="#26A69A"/>
<rect x="1940" y="1179.3" width="6" height="29.7" fill="#26A69A"/>
<rect x="1948" y="1175.6" width="7" height="33.4" fill="#26A69A"/>
<rect x="1957" y="1184.8" width="7" height="24.2" fill="#B2DFDB"/>
<rect x="1965" y="1194.6" width="7" height="14.4" fill="#B2DFDB"/>
<rect x="1974" y="1205.0" width="7" height="4.0" fill="#B2DFDB"/>
<rect x="1982" y="1207.5" width="7" height="1.5" fill="#B2DFDB"/>
<rect x="1991" y="1207.0" width="7" height="1.3" fill="#FF5252"/>
<rect x="1999" y="1207.0" width="7" height="2.4" fill="#FF5252"/>
<rect x="2008" y="1207.0" width="7" height="5.8" fill="#FF5252"/>
<rect x="2017" y="1207.0" width="6" height="4.1" fill="#FFCDD2"/>
<rect x="2025" y="1202.8" width="7" height="6.2" fill="#26A69A"/>
<rect x="2034" y="1197.5" width="6" height="11.5" fill="#26A69A"/>
<rect x="2042" y="1189.6" width="7" height="19.4" fill="#26A69A"/>
<rect x="2051" y="1191.3" width="6" height="17.7" fill="#B2DFDB"/>
<rect x="2059" y="1202.0" width="7" height="7.0" fill="#B2DFDB"/>
<rect x="2068" y="1207.5" width="7" height="1.5" fill="#B2DFDB"/>
<rect x="2076" y="1207.0" width="7" height="1.0" fill="#FF5252"/>
<rect x="2085" y="1207.0" width="7" height="3.4" fill="#FF5252"/>
<rect x="2093" y="1207.0" width="7" height="4.9" fill="#FF5252"/>
<rect x="2102" y="1207.0" width="7" height="5.2" fill="#FF5252"/>
<rect x="2110" y="1207.0" width="7" height="3.4" fill="#FFCDD2"/>
<rect x="2119" y="1207.0" width="7" height="3.0" fill="#FFCDD2"/>
<rect x="2128" y="1207.0" width="6" height="5.8" fill="#FF5252"/>
<rect x="2136" y="1207.0" width="7" height="11.4" fill="#FF5252"/>
<rect x="2145" y="1207.0" width="6" height="11.2" fill="#FFCDD2"/>
<rect x="2153" y="1207.0" width="7" height="4.4" fill="#FFCDD2"/>
<rect x="2162" y="1205.6" width="7" height="3.4" fill="#26A69A"/>
<rect x="2170" y="1207.0" width="7" height="1.4" fill="#FF5252"/>
<rect x="2179" y="1207.0" width="7" height="11.4" fill="#FF5252"/>
<rect x="2187" y="1207.0" width="7" height="15.8" fill="#FF5252"/>
<rect x="2196" y="1207.0" width="7" height="19.8" fill="#FF5252"/>
<rect x="2204" y="1207.0" width="7" height="22.5" fill="#FF5252"/>
<rect x="2213" y="1207.0" width="7" height="24.8" fill="#FF5252"/>
<rect x="2221" y="1207.0" width="7" height="23.8" fill="#FFCDD2"/>
<rect x="2230" y="1207.0" width="7" height="18.9" fill="#FFCDD2"/>
<rect x="2239" y="1207.0" width="6" height="14.4" fill="#FFCDD2"/>
<rect x="2247" y="1207.0" width="7" height="7.7" fill="#FFCDD2"/>
<rect x="2256" y="1207.0" width="6" height="3.4" fill="#FFCDD2"/>
<rect x="2264" y="1203.3" width="7" height="5.7" fill="#26A69A"/>
<rect x="2273" y="1199.5" width="7" height="9.5" fill="#26A69A"/>
<rect x="2281" y="1194.4" width="7" height="14.6" fill="#26A69A"/>
<rect x="2290" y="1192.0" width="7" height="17.0" fill="#26A69A"/>
<rect x="2298" y="1191.1" width="7" height="17.9" fill="#26A69A"/>
<rect x="2307" y="1190.7" width="7" height="18.3" fill="#26A69A"/>
<rect x="2315" y="1192.3" width="7" height="16.7" fill="#B2DFDB"/>
<rect x="2324" y="1191.0" width="7" height="18.0" fill="#26A69A"/>
<rect x="2333" y="1182.7" width="6" height="26.3" fill="#26A69A"/>
<rect x="2341" y="1180.3" width="7" height="28.7" fill="#26A69A"/>
<rect x="2350" y="1174.2" width="6" height="34.8" fill="#26A69A"/>
<rect x="2358" y="1170.9" width="7" height="38.1" fill="#26A69A"/>
<rect x="2367" y="1173.0" width="6" height="36.0" fill="#B2DFDB"/>
<rect x="2375" y="1173.8" width="7" height="35.2" fill="#B2DFDB"/>
<rect x="2384" y="1176.9" width="7" height="32.1" fill="#B2DFDB"/>
<rect x="2392" y="1182.4" width="7" height="26.6" fill="#B2DFDB"/>
<rect x="2401" y="1188.4" width="7" height="20.6" fill="#B2DFDB"/>
<rect x="2409" y="1193.1" width="7" height="15.9" fill="#B2DFDB"/>
<rect x="2418" y="1191.9" width="7" height="17.1" fill="#26A69A"/>
<rect x="2426" y="1200.7" width="7" height="8.3" fill="#B2DFDB"/>
<rect x="2435" y="1207.3" width="7" height="1.7" fill="#B2DFDB"/>
<rect x="2444" y="1207.0" width="6" height="1.9" fill="#FF5252"/>
<rect x="2452" y="1207.0" width="7" height="4.3" fill="#FF5252"/>
<rect x="2461" y="1207.0" width="6" height="5.3" fill="#FF5252"/>
<rect x="2469" y="1207.0" width="7" height="7.6" fill="#FF5252"/>
<rect x="2478" y="1207.0" width="7" height="11.2" fill="#FF5252"/>
<rect x="2486" y="1207.0" width="7" height="16.8" fill="#FF5252"/>
<rect x="2495" y="1207.0" width="7" height="16.9" fill="#FF5252"/>
<rect x="2503" y="1207.0" width="7" height="16.3" fill="#FFCDD2"/>
<rect x="2512" y="1207.0" width="7" height="14.5" fill="#FFCDD2"/>
<rect x="2520" y="1207.0" width="7" height="9.3" fill="#FFCDD2"/>
<rect x="2529" y="1207.0" width="7" height="4.5" fill="#FFCDD2"/>
<rect x="2537" y="1207.0" width="7" height="2.8" fill="#FFCDD2"/>
<rect x="2546" y="1207.3" width="7" height="1.7" fill="#26A69A"/>
<rect x="2555" y="1205.8" width="6" height="3.2" fill="#26A69A"/>
<rect x="2563" y="1203.4" width="7" height="5.6" fill="#26A69A"/>
<rect x="2572" y="1203.5" width="6" height="5.5" fill="#B2DFDB"/>
<rect x="2580" y="1203.9" width="7" height="5.1" fill="#B2DFDB"/>
<rect x="2589" y="1203.6" width="7" height="5.4" fill="#26A69A"/>
<rect x="2597" y="1203.0" width="7" height="6.0" fill="#26A69A"/>
<rect x="2606" y="1200.6" width="7" height="8.4" fill="#26A69A"/>
<rect x="2614" y="1197.9" width="7" height="11.1" fill="#26A69A"/>
<rect x="2623" y="1195.9" width="7" height="13.1" fill="#26A69A"/>
<rect x="2631" y="1194.8" width="7" height="14.2" fill="#26A69A"/>
<rect x="2640" y="1198.3" width="7" height="10.7" fill="#B2DFDB"/>
<rect x="2649" y="1203.3" width="6" height="5.7" fill="#B2DFDB"/>
<rect x="2657" y="1207.2" width="7" height="1.8" fill="#B2DFDB"/>
<rect x="2666" y="1207.0" width="6" height="3.0" fill="#FF5252"/>
<rect x="2674" y="1207.0" width="7" height="3.5" fill="#FF5252"/>
<rect x="2683" y="1207.0" width="6" height="6.0" fill="#FF5252"/>
<rect x="2691" y="1207.0" width="7" height="6.5" fill="#FF5252"/>
<rect x="2700" y="1207.0" width="7" height="6.4" fill="#FFCDD2"/>
<rect x="2708" y="1207.0" width="7" height="6.0" fill="#FFCDD2"/>
<rect x="2717" y="1207.0" width="7" height="9.0" fill="#FF5252"/>
<rect x="2725" y="1207.0" width="7" height="9.0" fill="#FFCDD2"/>
<rect x="2734" y="1207.0" width="7" height="10.0" fill="#FF5252"/>
<rect x="2742" y="1207.0" width="7" height="6.7" fill="#FFCDD2"/>
<rect x="2751" y="1207.0" width="7" height="5.2" fill="#FFCDD2"/>
<rect x="2760" y="1207.0" width="6" height="2.2" fill="#FFCDD2"/>
<rect x="2768" y="1200.9" width="7" height="8.1" fill="#26A69A"/>
<rect x="2777" y="1197.9" width="6" height="11.1" fill="#26A69A"/>
<rect x="2785" y="1195.5" width="7" height="13.5" fill="#26A69A"/>
<rect x="2794" y="1195.7" width="7" height="13.3" fill="#B2DFDB"/>
<rect x="2802" y="1196.1" width="7" height="12.9" fill="#B2DFDB"/>
<rect x="2811" y="1196.6" width="7" height="12.4" fill="#B2DFDB"/>
<rect x="2819" y="1197.0" width="7" height="12.0" fill="#B2DFDB"/>
<rect x="2828" y="1196.8" width="7" height="12.2" fill="#26A69A"/>
<rect x="2836" y="1197.3" width="7" height="11.7" fill="#B2DFDB"/>
<rect x="2845" y="1197.1" width="7" height="11.9" fill="#26A69A"/>
<rect x="2853" y="1194.5" width="7" height="14.5" fill="#26A69A"/>
<rect x="2862" y="1192.3" width="7" height="16.7" fill="#26A69A"/>
<rect x="2871" y="1190.0" width="6" height="19.0" fill="#26A69A"/>
<rect x="2879" y="1188.9" width="7" height="20.1" fill="#26A69A"/>
<rect x="2888" y="1188.8" width="6" height="20.2" fill="#26A69A"/>
<rect x="2896" y="1191.1" width="7" height="17.9" fill="#B2DFDB"/>
<rect x="2905" y="1190.1" width="7" height="18.9" fill="#26A69A"/>
<rect x="2913" y="1191.4" width="7" height="17.6" fill="#B2DFDB"/>
<rect x="2922" y="1192.8" width="7" height="16.2" fill="#B2DFDB"/>
<rect x="2930" y="1192.0" width="7" height="17.0" fill="#26A69A"/>
<rect x="2939" y="1193.5" width="7" height="15.5" fill="#B2DFDB"/>
<rect x="2947" y="1198.3" width="7" height="10.7" fill="#B2DFDB"/>
<rect x="2956" y="1202.7" width="7" height="6.3" fill="#B2DFDB"/>
<rect x="2965" y="1206.4" width="6" height="2.6" fill="#B2DFDB"/>
<rect x="2973" y="1207.0" width="7" height="3.0" fill="#FF5252"/>
<rect x="2982" y="1207.0" width="6" height="4.7" fill="#FF5252"/>
<rect x="2990" y="1206.6" width="7" height="2.4" fill="#26A69A"/>
<rect x="2999" y="1200.8" width="6" height="8.2" fill="#26A69A"/>
<rect x="3007" y="1191.5" width="7" height="17.5" fill="#26A69A"/>
<rect x="3016" y="1189.6" width="7" height="19.4" fill="#26A69A"/>
<rect x="3024" y="1189.6" width="7" height="19.4" fill="#26A69A"/>
<rect x="3033" y="1190.6" width="7" height="18.4" fill="#B2DFDB"/>
<rect x="3041" y="1195.0" width="7" height="14.0" fill="#B2DFDB"/>
<rect x="3050" y="1201.6" width="7" height="7.4" fill="#B2DFDB"/>
<rect x="3058" y="1207.0" width="7" height="1.2" fill="#FF5252"/>
<rect x="3067" y="1207.0" width="7" height="6.7" fill="#FF5252"/>
<rect x="3076" y="1207.0" width="6" height="8.9" fill="#FF5252"/>
<rect x="3084" y="1207.0" width="7" height="12.2" fill="#FF5252"/>
<rect x="3093" y="1207.0" width="6" height="13.5" fill="#FF5252"/>
<rect x="3101" y="1207.0" width="7" height="13.0" fill="#FFCDD2"/>
<rect x="3110" y="1207.0" width="7" height="9.6" fill="#FFCDD2"/>
<rect x="3118" y="1207.0" width="7" height="10.9" fill="#FF5252"/>
<rect x="3127" y="1207.0" width="7" height="12.1" fill="#FF5252"/>
<rect x="3135" y="1207.0" width="7" height="13.0" fill="#FF5252"/>
<rect x="3144" y="1207.0" width="7" height="13.0" fill="#FF5252"/>
<rect x="3152" y="1207.0" width="7" height="11.8" fill="#FFCDD2"/>
<rect x="3161" y="1207.0" width="7" height="11.1" fill="#FFCDD2"/>
<rect x="3169" y="1207.0" width="7" height="12.5" fill="#FF5252"/>
<rect x="3178" y="1207.0" width="7" height="17.3" fill="#FF5252"/>
<rect x="3187" y="1207.0" width="6" height="18.9" fill="#FF5252"/>
<rect x="3195" y="1207.0" width="7" height="18.9" fill="#FFCDD2"/>
<rect x="3204" y="1207.0" width="6" height="17.4" fill="#FFCDD2"/>
<rect x="3212" y="1207.0" width="7" height="15.7" fill="#FFCDD2"/>
<rect x="3221" y="1207.0" width="7" height="14.9" fill="#FFCDD2"/>
<rect x="3229" y="1207.0" width="7" height="16.5" fill="#FF5252"/>
<rect x="3238" y="1207.0" width="7" height="15.5" fill="#FFCDD2"/>
<rect x="3246" y="1207.0" width="7" height="12.7" fill="#FFCDD2"/>
<rect x="3255" y="1207.0" width="7" height="10.1" fill="#FFCDD2"/>
<rect x="3263" y="1207.0" width="7" height="6.3" fill="#FFCDD2"/>
<rect x="3272" y="1207.0" width="7" height="1.1" fill="#FFCDD2"/>
<rect x="3281" y="1206.8" width="6" height="2.2" fill="#26A69A"/>
<rect x="3289" y="1207.0" width="7" height="1.8" fill="#FF5252"/>
<rect x="3298" y="1207.0" width="6" height="3.7" fill="#FF5252"/>
<rect x="3306" y="1207.0" width="7" height="5.4" fill="#FF5252"/>
<rect x="3315" y="1207.0" width="6" height="5.8" fill="#FF5252"/>
<rect x="3323" y="1207.0" width="7" height="5.8" fill="#FFCDD2"/>
<rect x="3332" y="1207.0" width="7" height="7.5" fill="#FF5252"/>
<line x1="21" y1="1208.0" x2="3384" y2="1208.0" stroke="#787B86" stroke-opacity="0.5" stroke-width="2" stroke-dasharray="10 12" stroke-dashoffset="1"/>
<polyline points="21.2,1243.1 29.8,1240.1 38.3,1228.7 46.9,1227.5 55.4,1232.8 64.0,1238.0 72.5,1242.6 81.0,1249.5 89.6,1258.2 98.1,1257.6 106.7,1251.6 115.2,1245.3 123.7,1244.7 132.3,1238.8 140.8,1243.2 149.4,1243.6 157.9,1248.8 166.4,1259.2 175.0,1260.4 183.5,1270.8 192.1,1284.3 200.6,1294.8 209.1,1302.6 217.7,1316.9 226.2,1336.1 234.8,1345.3 243.3,1350.6 251.8,1352.5 260.4,1355.0 268.9,1356.6 277.5,1351.9 286.0,1344.0 294.5,1342.3 303.1,1337.1 311.6,1337.0 320.2,1337.6 328.7,1334.2 337.2,1332.2 345.8,1327.6 354.3,1329.9 362.9,1339.7 371.4,1346.5 380.0,1346.0 388.5,1352.0 397.0,1347.8 405.6,1330.5 414.1,1315.3 422.7,1308.1 431.2,1301.1 439.7,1293.9 448.3,1283.9 456.8,1267.9 465.4,1253.2 473.9,1244.3 482.4,1236.8 491.0,1221.5 499.5,1206.0 508.1,1194.8 516.6,1185.9 525.1,1184.3 533.7,1188.5 542.2,1192.4 550.8,1190.9 559.3,1191.8 567.8,1196.2 576.4,1199.9 584.9,1207.8 593.5,1218.2 602.0,1229.7 610.5,1244.8 619.1,1259.5 627.6,1274.9 636.2,1292.1 644.7,1300.5 653.2,1307.9 661.8,1298.0 670.3,1289.7 678.9,1279.8 687.4,1279.5 695.9,1268.7 704.5,1262.1 713.0,1259.7 721.6,1258.9 730.1,1260.0 738.7,1259.3 747.2,1259.2 755.7,1258.1 764.3,1257.6 772.8,1252.5 781.4,1246.9 789.9,1230.5 798.4,1212.4 807.0,1197.4 815.5,1190.3 824.1,1189.9 832.6,1192.2 841.1,1194.5 849.7,1199.2 858.2,1205.4 866.8,1215.1 875.3,1217.7 883.8,1225.1 892.4,1228.1 900.9,1232.5 909.5,1236.1 918.0,1237.7 926.5,1234.8 935.1,1228.4 943.6,1223.1 952.2,1222.4 960.7,1216.3 969.2,1210.8 977.8,1208.2 986.3,1205.7 994.9,1211.5 1003.4,1214.3 1011.9,1207.8 1020.5,1195.9 1029.0,1182.5 1037.6,1162.2 1046.1,1151.9 1054.6,1145.8 1063.2,1124.3 1071.7,1102.7 1080.3,1083.4 1088.8,1071.6 1097.4,1068.0 1105.9,1057.1 1114.4,1055.8 1123.0,1063.0 1131.5,1074.1 1140.1,1091.2 1148.6,1099.9 1157.1,1110.7 1165.7,1112.4 1174.2,1118.0 1182.8,1122.0 1191.3,1133.9 1199.8,1142.2 1208.4,1139.8 1216.9,1130.0 1225.5,1120.2 1234.0,1112.9 1242.5,1116.7 1251.1,1125.2 1259.6,1136.4 1268.2,1142.3 1276.7,1150.1 1285.2,1152.1 1293.8,1160.8 1302.3,1167.4 1310.9,1171.9 1319.4,1179.5 1327.9,1198.8 1336.5,1212.6 1345.0,1224.1 1353.6,1233.6 1362.1,1234.5 1370.6,1232.0 1379.2,1235.7 1387.7,1239.8 1396.3,1246.0 1404.8,1254.9 1413.4,1264.4 1421.9,1267.4 1430.4,1253.6 1439.0,1240.9 1447.5,1229.7 1456.1,1212.3 1464.6,1194.1 1473.1,1167.5 1481.7,1155.7 1490.2,1155.3 1498.8,1159.5 1507.3,1157.4 1515.8,1134.6 1524.4,1128.8 1532.9,1121.0 1541.5,1122.4 1550.0,1132.3 1558.5,1134.8 1567.1,1128.9 1575.6,1120.4 1584.2,1081.6 1592.7,1054.6 1601.2,1024.9 1609.8,1009.1 1618.3,1002.7 1626.9,996.0 1635.4,995.6 1643.9,1001.1 1652.5,1010.3 1661.0,1006.3 1669.6,1006.5 1678.1,1006.1 1686.6,1006.7 1695.2,1012.6 1703.7,1020.3 1712.3,1060.9 1720.8,1098.5 1729.3,1116.6 1737.9,1129.2 1746.4,1142.2 1755.0,1159.9 1763.5,1169.3 1772.1,1185.1 1780.6,1207.3 1789.1,1238.9 1797.7,1274.3 1806.2,1298.7 1814.8,1321.8 1823.3,1339.6 1831.8,1341.9 1840.4,1338.9 1848.9,1339.0 1857.5,1346.8 1866.0,1352.4 1874.5,1352.4 1883.1,1355.1 1891.6,1357.2 1900.2,1359.1 1908.7,1352.3 1917.2,1342.7 1925.8,1326.5 1934.3,1308.9 1942.9,1297.1 1951.4,1285.3 1959.9,1288.7 1968.5,1295.2 1977.0,1304.8 1985.6,1307.2 1994.1,1308.1 2002.6,1309.5 2011.2,1314.1 2019.7,1313.1 2028.3,1303.5 2036.8,1295.6 2045.3,1283.2 2053.9,1280.7 2062.4,1289.9 2071.0,1295.2 2079.5,1295.8 2088.1,1298.8 2096.6,1301.2 2105.1,1302.6 2113.7,1301.4 2122.2,1301.5 2130.8,1305.5 2139.3,1313.7 2147.8,1316.0 2156.4,1310.0 2164.9,1303.7 2173.5,1306.6 2182.0,1319.1 2190.5,1327.2 2199.1,1336.0 2207.6,1344.1 2216.2,1352.3 2224.7,1357.0 2233.2,1356.6 2241.8,1355.5 2250.3,1350.5 2258.9,1346.7 2267.4,1338.5 2275.9,1332.5 2284.5,1324.0 2293.0,1317.6 2301.6,1312.5 2310.1,1307.7 2318.6,1305.4 2327.2,1299.9 2335.7,1285.3 2344.3,1275.9 2352.8,1261.4 2361.3,1248.8 2369.9,1242.2 2378.4,1234.4 2387.0,1229.7 2395.5,1228.9 2404.0,1229.9 2412.6,1231.0 2421.1,1225.8 2429.7,1232.7 2438.2,1239.1 2446.8,1240.9 2455.3,1244.1 2463.8,1246.3 2472.4,1250.1 2480.9,1256.3 2489.5,1265.9 2498.0,1269.9 2506.5,1273.2 2515.1,1274.8 2523.6,1271.6 2532.2,1267.7 2540.7,1266.4 2549.2,1263.8 2557.8,1261.7 2566.3,1258.2 2574.9,1257.1 2583.4,1256.5 2591.9,1255.1 2600.5,1253.3 2609.0,1249.0 2617.6,1243.8 2626.1,1238.8 2634.6,1234.4 2643.2,1235.4 2651.7,1239.2 2660.3,1243.0 2668.8,1246.3 2677.3,1247.4 2685.9,1251.1 2694.4,1253.0 2703.0,1254.2 2711.5,1255.1 2720.0,1260.1 2728.6,1262.1 2737.1,1265.4 2745.7,1263.4 2754.2,1263.0 2762.8,1260.3 2771.3,1250.2 2779.8,1244.6 2788.4,1239.2 2796.9,1236.3 2805.5,1233.8 2814.0,1231.4 2822.5,1229.0 2831.1,1226.0 2839.6,1223.9 2848.2,1220.9 2856.7,1214.9 2865.2,1208.9 2873.8,1202.1 2882.3,1196.2 2890.9,1191.2 2899.4,1189.3 2907.9,1183.8 2916.5,1180.9 2925.0,1178.6 2933.6,1173.7 2942.1,1171.7 2950.6,1174.0 2959.2,1177.2 2967.7,1180.5 2976.3,1184.5 2984.8,1187.2 2993.3,1181.6 3001.9,1174.1 3010.4,1160.6 3019.0,1154.2 3027.5,1149.6 3036.0,1146.2 3044.6,1147.3 3053.1,1152.3 3061.7,1159.0 3070.2,1165.9 3078.7,1170.0 3087.3,1176.1 3095.8,1180.5 3104.4,1183.1 3112.9,1181.8 3121.5,1185.7 3130.0,1189.6 3138.5,1193.5 3147.1,1196.6 3155.6,1198.0 3164.2,1199.9 3172.7,1204.2 3181.2,1213.0 3189.8,1219.1 3198.3,1223.5 3206.9,1226.2 3215.4,1228.1 3223.9,1230.8 3232.5,1236.2 3241.0,1238.9 3249.6,1239.0 3258.1,1238.7 3266.6,1236.2 3275.2,1231.0 3283.7,1229.5 3292.3,1231.7 3300.8,1234.3 3309.3,1237.0 3317.9,1238.6 3326.4,1239.8 3335.0,1243.1" fill="none" stroke="#2962FF" stroke-width="2.0" stroke-linejoin="round" stroke-linecap="round" />
<polyline points="21.2,1258.8 29.8,1255.1 38.3,1249.8 46.9,1245.3 55.4,1242.8 64.0,1241.9 72.5,1242.0 81.0,1243.5 89.6,1246.5 98.1,1248.7 106.7,1249.3 115.2,1248.5 123.7,1247.7 132.3,1245.9 140.8,1245.4 149.4,1245.0 157.9,1245.8 166.4,1248.5 175.0,1250.9 183.5,1254.8 192.1,1260.7 200.6,1267.5 209.1,1274.5 217.7,1283.0 226.2,1293.6 234.8,1304.0 243.3,1313.3 251.8,1321.1 260.4,1327.9 268.9,1333.6 277.5,1337.3 286.0,1338.6 294.5,1339.4 303.1,1338.9 311.6,1338.5 320.2,1338.3 328.7,1337.5 337.2,1336.4 345.8,1334.7 354.3,1333.7 362.9,1334.9 371.4,1337.2 380.0,1339.0 388.5,1341.6 397.0,1342.8 405.6,1340.4 414.1,1335.3 422.7,1329.9 431.2,1324.1 439.7,1318.1 448.3,1311.2 456.8,1302.6 465.4,1292.7 473.9,1283.0 482.4,1273.8 491.0,1263.3 499.5,1251.8 508.1,1240.4 516.6,1229.5 525.1,1220.5 533.7,1214.1 542.2,1209.7 550.8,1206.0 559.3,1203.1 567.8,1201.8 576.4,1201.4 584.9,1202.7 593.5,1205.8 602.0,1210.6 610.5,1217.4 619.1,1225.8 627.6,1235.6 636.2,1246.9 644.7,1257.7 653.2,1267.7 661.8,1273.8 670.3,1277.0 678.9,1277.5 687.4,1277.9 695.9,1276.1 704.5,1273.3 713.0,1270.6 721.6,1268.2 730.1,1266.6 738.7,1265.1 747.2,1263.9 755.7,1262.8 764.3,1261.7 772.8,1259.9 781.4,1257.3 789.9,1251.9 798.4,1244.0 807.0,1234.7 815.5,1225.8 824.1,1218.6 832.6,1213.3 841.1,1209.6 849.7,1207.5 858.2,1207.1 866.8,1208.7 875.3,1210.5 883.8,1213.4 892.4,1216.3 900.9,1219.6 909.5,1222.9 918.0,1225.8 926.5,1227.6 935.1,1227.8 943.6,1226.8 952.2,1225.9 960.7,1224.0 969.2,1221.4 977.8,1218.7 986.3,1216.1 994.9,1215.2 1003.4,1215.0 1011.9,1213.6 1020.5,1210.0 1029.0,1204.5 1037.6,1196.1 1046.1,1187.2 1054.6,1178.9 1063.2,1168.0 1071.7,1154.9 1080.3,1140.6 1088.8,1126.8 1097.4,1115.1 1105.9,1103.5 1114.4,1093.9 1123.0,1087.7 1131.5,1085.0 1140.1,1086.2 1148.6,1089.0 1157.1,1093.3 1165.7,1097.1 1174.2,1101.3 1182.8,1105.4 1191.3,1111.1 1199.8,1117.3 1208.4,1121.8 1216.9,1123.5 1225.5,1122.8 1234.0,1120.8 1242.5,1120.0 1251.1,1121.0 1259.6,1124.1 1268.2,1127.8 1276.7,1132.2 1285.2,1136.2 1293.8,1141.1 1302.3,1146.4 1310.9,1151.5 1319.4,1157.1 1327.9,1165.4 1336.5,1174.9 1345.0,1184.7 1353.6,1194.5 1362.1,1202.5 1370.6,1208.4 1379.2,1213.9 1387.7,1219.1 1396.3,1224.4 1404.8,1230.5 1413.4,1237.3 1421.9,1243.3 1430.4,1245.4 1439.0,1244.5 1447.5,1241.5 1456.1,1235.7 1464.6,1227.3 1473.1,1215.4 1481.7,1203.5 1490.2,1193.8 1498.8,1187.0 1507.3,1181.0 1515.8,1171.8 1524.4,1163.2 1532.9,1154.7 1541.5,1148.3 1550.0,1145.1 1558.5,1143.0 1567.1,1140.2 1575.6,1136.2 1584.2,1125.3 1592.7,1111.2 1601.2,1093.9 1609.8,1077.0 1618.3,1062.1 1626.9,1048.9 1635.4,1038.2 1643.9,1030.8 1652.5,1026.7 1661.0,1022.6 1669.6,1019.4 1678.1,1016.7 1686.6,1014.7 1695.2,1014.3 1703.7,1015.5 1712.3,1024.6 1720.8,1039.4 1729.3,1054.8 1737.9,1069.7 1746.4,1084.2 1755.0,1099.3 1763.5,1113.3 1772.1,1127.7 1780.6,1143.6 1789.1,1162.7 1797.7,1185.0 1806.2,1207.7 1814.8,1230.6 1823.3,1252.4 1831.8,1270.3 1840.4,1284.0 1848.9,1295.0 1857.5,1305.4 1866.0,1314.8 1874.5,1322.3 1883.1,1328.9 1891.6,1334.5 1900.2,1339.4 1908.7,1342.0 1917.2,1342.2 1925.8,1339.0 1934.3,1333.0 1942.9,1325.8 1951.4,1317.7 1959.9,1311.9 1968.5,1308.6 1977.0,1307.8 1985.6,1307.7 1994.1,1307.8 2002.6,1308.1 2011.2,1309.3 2019.7,1310.1 2028.3,1308.8 2036.8,1306.1 2045.3,1301.5 2053.9,1297.4 2062.4,1295.9 2071.0,1295.8 2079.5,1295.8 2088.1,1296.4 2096.6,1297.3 2105.1,1298.4 2113.7,1299.0 2122.2,1299.5 2130.8,1300.7 2139.3,1303.3 2147.8,1305.8 2156.4,1306.7 2164.9,1306.1 2173.5,1306.2 2182.0,1308.8 2190.5,1312.5 2199.1,1317.2 2207.6,1322.5 2216.2,1328.5 2224.7,1334.2 2233.2,1338.7 2241.8,1342.1 2250.3,1343.7 2258.9,1344.3 2267.4,1343.2 2275.9,1341.0 2284.5,1337.6 2293.0,1333.6 2301.6,1329.4 2310.1,1325.1 2318.6,1321.1 2327.2,1316.9 2335.7,1310.6 2344.3,1303.6 2352.8,1295.2 2361.3,1285.9 2369.9,1277.2 2378.4,1268.6 2387.0,1260.8 2395.5,1254.4 2404.0,1249.5 2412.6,1245.8 2421.1,1241.8 2429.7,1240.0 2438.2,1239.8 2446.8,1240.0 2455.3,1240.8 2463.8,1241.9 2472.4,1243.6 2480.9,1246.1 2489.5,1250.1 2498.0,1254.0 2506.5,1257.9 2515.1,1261.3 2523.6,1263.3 2532.2,1264.2 2540.7,1264.6 2549.2,1264.5 2557.8,1263.9 2566.3,1262.8 2574.9,1261.6 2583.4,1260.6 2591.9,1259.5 2600.5,1258.3 2609.0,1256.4 2617.6,1253.9 2626.1,1250.9 2634.6,1247.6 2643.2,1245.1 2651.7,1244.0 2660.3,1243.8 2668.8,1244.3 2677.3,1244.9 2685.9,1246.1 2694.4,1247.5 2703.0,1248.8 2711.5,1250.1 2720.0,1252.1 2728.6,1254.1 2737.1,1256.4 2745.7,1257.8 2754.2,1258.8 2762.8,1259.1 2771.3,1257.3 2779.8,1254.8 2788.4,1251.7 2796.9,1248.6 2805.5,1245.6 2814.0,1242.8 2822.5,1240.0 2831.1,1237.2 2839.6,1234.6 2848.2,1231.8 2856.7,1228.4 2865.2,1224.5 2873.8,1220.0 2882.3,1215.3 2890.9,1210.5 2899.4,1206.2 2907.9,1201.7 2916.5,1197.6 2925.0,1193.8 2933.6,1189.8 2942.1,1186.2 2950.6,1183.7 2959.2,1182.4 2967.7,1182.0 2976.3,1182.5 2984.8,1183.4 2993.3,1183.1 3001.9,1181.3 3010.4,1177.2 3019.0,1172.6 3027.5,1168.0 3036.0,1163.6 3044.6,1160.4 3053.1,1158.7 3061.7,1158.8 3070.2,1160.2 3078.7,1162.2 3087.3,1165.0 3095.8,1168.1 3104.4,1171.1 3112.9,1173.2 3121.5,1175.7 3130.0,1178.5 3138.5,1181.5 3147.1,1184.5 3155.6,1187.2 3164.2,1189.7 3172.7,1192.6 3181.2,1196.7 3189.8,1201.2 3198.3,1205.7 3206.9,1209.8 3215.4,1213.4 3223.9,1216.9 3232.5,1220.8 3241.0,1224.4 3249.6,1227.3 3258.1,1229.6 3266.6,1230.9 3275.2,1230.9 3283.7,1230.6 3292.3,1230.8 3300.8,1231.5 3309.3,1232.6 3317.9,1233.8 3326.4,1235.0 3335.0,1236.6" fill="none" stroke="#FF6D00" stroke-width="2.0" stroke-linejoin="round" stroke-linecap="round" />
</g><g clip-path="url(#clipR)">
<clipPath id="c70"><rect x="0" y="0" width="3574" height="1486.9"/></clipPath>
<clipPath id="c30"><rect x="0" y="1768.0" width="3574" height="400"/></clipPath>
<polygon points="21.2,1486.9 21.2,1644.2 29.8,1638.6 38.3,1597.9 46.9,1635.7 55.4,1663.4 64.0,1668.8 72.5,1672.8 81.0,1688.9 89.6,1704.6 98.1,1663.0 106.7,1636.4 115.2,1629.7 123.7,1655.1 132.3,1626.4 140.8,1672.8 149.4,1657.2 157.9,1681.7 166.4,1709.7 175.0,1672.3 183.5,1711.6 192.1,1732.5 200.6,1735.4 209.1,1737.0 217.7,1767.8 226.2,1793.0 234.8,1763.7 243.3,1760.9 251.8,1756.1 260.4,1765.5 268.9,1770.0 277.5,1735.5 286.0,1715.5 294.5,1741.7 303.1,1723.0 311.6,1746.0 320.2,1754.7 328.7,1734.9 337.2,1744.0 345.8,1729.3 354.3,1762.2 362.9,1795.4 371.4,1797.1 380.0,1759.1 388.5,1787.6 397.0,1729.7 405.6,1651.6 414.1,1649.9 422.7,1678.7 431.2,1677.0 439.7,1672.7 448.3,1650.4 456.8,1605.8 465.4,1597.7 473.9,1618.3 482.4,1617.7 491.0,1565.0 499.5,1548.5 508.1,1555.6 516.6,1553.9 525.1,1595.4 533.7,1631.9 542.2,1634.6 550.8,1601.8 559.3,1616.2 567.8,1641.6 576.4,1642.0 584.9,1676.6 593.5,1702.9 602.0,1722.3 610.5,1753.6 619.1,1767.9 627.6,1786.3 636.2,1807.1 644.7,1766.9 653.2,1774.6 661.8,1660.0 670.3,1662.4 678.9,1646.1 687.4,1690.4 695.9,1630.2 704.5,1644.4 713.0,1661.7 721.6,1670.9 730.1,1682.4 738.7,1675.7 747.2,1681.9 755.7,1678.1 764.3,1684.0 772.8,1648.6 781.4,1639.3 789.9,1560.7 798.4,1534.6 807.0,1530.3 815.5,1570.0 824.1,1607.5 832.6,1624.4 841.1,1627.5 849.7,1647.0 858.2,1663.7 866.8,1695.3 875.3,1654.5 883.8,1688.2 892.4,1667.2 900.9,1681.6 909.5,1684.9 918.0,1675.3 926.5,1641.9 935.1,1610.7 943.6,1610.7 952.2,1641.4 960.7,1598.0 969.2,1592.8 977.8,1610.1 986.3,1605.4 994.9,1671.4 1003.4,1656.0 1011.9,1587.2 1020.5,1546.2 1029.0,1523.7 1037.6,1481.0 1046.1,1523.8 1054.6,1535.2 1063.2,1470.1 1071.7,1454.6 1080.3,1445.4 1088.8,1459.9 1097.4,1492.8 1105.9,1463.1 1114.4,1503.1 1123.0,1546.1 1131.5,1568.9 1140.1,1608.1 1148.6,1580.5 1157.1,1596.4 1165.7,1562.3 1174.2,1580.4 1182.8,1574.3 1191.3,1618.3 1199.8,1609.1 1208.4,1564.9 1216.9,1531.8 1225.5,1521.3 1234.0,1519.0 1242.5,1573.1 1251.1,1597.8 1259.6,1617.7 1268.2,1599.1 1276.7,1612.9 1285.2,1588.9 1293.8,1626.0 1302.3,1622.2 1310.9,1615.3 1319.4,1637.7 1327.9,1702.3 1336.5,1692.5 1345.0,1696.2 1353.6,1699.3 1362.1,1655.0 1370.6,1636.8 1379.2,1670.3 1387.7,1678.4 1396.3,1695.8 1404.8,1718.3 1413.4,1732.5 1421.9,1701.7 1430.4,1603.9 1439.0,1596.5 1447.5,1592.0 1456.1,1551.0 1464.6,1531.6 1473.1,1487.5 1481.7,1542.9 1490.2,1588.8 1498.8,1609.0 1507.3,1582.9 1515.8,1511.9 1524.4,1565.2 1532.9,1552.5 1541.5,1581.9 1550.0,1614.3 1558.5,1592.5 1567.1,1564.2 1575.6,1549.6 1584.2,1474.9 1592.7,1483.4 1601.2,1465.2 1609.8,1489.3 1618.3,1505.9 1626.9,1497.2 1635.4,1509.0 1643.9,1525.0 1652.5,1537.7 1661.0,1502.3 1669.6,1507.2 1678.1,1499.7 1686.6,1496.2 1695.2,1514.6 1703.7,1520.1 1712.3,1664.2 1720.8,1677.2 1729.3,1629.1 1737.9,1619.9 1746.4,1628.3 1755.0,1653.1 1763.5,1633.0 1772.1,1662.2 1780.6,1693.2 1789.1,1731.7 1797.7,1756.7 1806.2,1745.1 1814.8,1756.8 1823.3,1758.8 1831.8,1709.2 1840.4,1694.0 1848.9,1706.5 1857.5,1733.1 1866.0,1735.9 1874.5,1721.4 1883.1,1734.7 1891.6,1739.9 1900.2,1746.2 1908.7,1705.5 1917.2,1690.6 1925.8,1650.6 1934.3,1633.2 1942.9,1647.9 1951.4,1639.6 1959.9,1699.9 1968.5,1717.2 1977.0,1736.2 1985.6,1711.7 1994.1,1711.9 2002.6,1719.7 2011.2,1737.9 2019.7,1713.9 2028.3,1664.3 2036.8,1667.9 2045.3,1635.6 2053.9,1677.0 2062.4,1725.1 2071.0,1719.0 2079.5,1701.8 2088.1,1716.8 2096.6,1721.3 2105.1,1723.8 2113.7,1713.6 2122.2,1724.2 2130.8,1747.1 2139.3,1771.7 2147.8,1746.2 2156.4,1694.4 2164.9,1690.0 2173.5,1733.0 2182.0,1774.6 2190.5,1770.9 2199.1,1783.4 2207.6,1792.0 2216.2,1803.0 2224.7,1801.5 2233.2,1778.3 2241.8,1781.8 2250.3,1756.9 2258.9,1765.3 2267.4,1727.3 2275.9,1738.0 2284.5,1714.1 2293.0,1723.6 2301.6,1729.9 2310.1,1733.3 2318.6,1748.8 2327.2,1717.7 2335.7,1628.4 2344.3,1651.1 2352.8,1601.7 2361.3,1597.2 2369.9,1628.1 2378.4,1610.6 2387.0,1625.7 2395.5,1650.1 2404.0,1665.6 2412.6,1668.9 2421.1,1616.1 2429.7,1696.1 2438.2,1703.2 2446.8,1678.1 2455.3,1692.1 2463.8,1692.1 2472.4,1709.9 2480.9,1732.6 2489.5,1761.1 2498.0,1730.2 2506.5,1735.2 2515.1,1732.7 2523.6,1691.6 2532.2,1684.0 2540.7,1703.0 2549.2,1691.8 2557.8,1697.1 2566.3,1681.0 2574.9,1701.0 2583.4,1708.0 2591.9,1703.4 2600.5,1699.4 2609.0,1664.9 2617.6,1644.6 2626.1,1637.8 2634.6,1635.5 2643.2,1695.9 2651.7,1727.9 2660.3,1738.3 2668.8,1745.2 2677.3,1726.6 2685.9,1756.8 2694.4,1746.7 2703.0,1749.8 2711.5,1753.9 2720.0,1795.6 2728.6,1768.5 2737.1,1787.5 2745.7,1716.8 2754.2,1733.3 2762.8,1704.3 2771.3,1608.5 2779.8,1640.1 2788.4,1632.5 2796.9,1651.2 2805.5,1651.9 2814.0,1650.6 2822.5,1647.3 2831.1,1632.9 2839.6,1640.0 2848.2,1622.1 2856.7,1572.0 2865.2,1557.1 2873.8,1533.3 2882.3,1526.3 2890.9,1520.9 2899.4,1556.9 2907.9,1510.1 2916.5,1531.7 2925.0,1527.1 2933.6,1493.2 2942.1,1520.1 2950.6,1582.1 2959.2,1597.3 2967.7,1604.9 2976.3,1623.0 2984.8,1612.0 2993.3,1518.9 3001.9,1490.5 3010.4,1443.1 3019.0,1494.7 3027.5,1493.7 3036.0,1490.9 3044.6,1535.7 3053.1,1580.1 3061.7,1605.7 3070.2,1617.8 3078.7,1599.7 3087.3,1628.1 3095.8,1619.9 3104.4,1605.8 3112.9,1567.6 3121.5,1623.7 3130.0,1631.6 3138.5,1638.3 3147.1,1636.2 3155.6,1621.7 3164.2,1630.6 3172.7,1666.3 3181.2,1723.2 3189.8,1710.0 3198.3,1707.2 3206.9,1696.5 3215.4,1697.0 3223.9,1713.1 3232.5,1751.4 3241.0,1726.0 3249.6,1697.1 3258.1,1697.1 3266.6,1662.5 3275.2,1616.4 3283.7,1655.6 3292.3,1698.9 3300.8,1710.7 3309.3,1721.8 3317.9,1716.7 3326.4,1719.9 3335.0,1750.2 3335.0,1486.9" fill="url(#gGreen)" clip-path="url(#c70)"/>
<polygon points="21.2,1768.0 21.2,1644.2 29.8,1638.6 38.3,1597.9 46.9,1635.7 55.4,1663.4 64.0,1668.8 72.5,1672.8 81.0,1688.9 89.6,1704.6 98.1,1663.0 106.7,1636.4 115.2,1629.7 123.7,1655.1 132.3,1626.4 140.8,1672.8 149.4,1657.2 157.9,1681.7 166.4,1709.7 175.0,1672.3 183.5,1711.6 192.1,1732.5 200.6,1735.4 209.1,1737.0 217.7,1767.8 226.2,1793.0 234.8,1763.7 243.3,1760.9 251.8,1756.1 260.4,1765.5 268.9,1770.0 277.5,1735.5 286.0,1715.5 294.5,1741.7 303.1,1723.0 311.6,1746.0 320.2,1754.7 328.7,1734.9 337.2,1744.0 345.8,1729.3 354.3,1762.2 362.9,1795.4 371.4,1797.1 380.0,1759.1 388.5,1787.6 397.0,1729.7 405.6,1651.6 414.1,1649.9 422.7,1678.7 431.2,1677.0 439.7,1672.7 448.3,1650.4 456.8,1605.8 465.4,1597.7 473.9,1618.3 482.4,1617.7 491.0,1565.0 499.5,1548.5 508.1,1555.6 516.6,1553.9 525.1,1595.4 533.7,1631.9 542.2,1634.6 550.8,1601.8 559.3,1616.2 567.8,1641.6 576.4,1642.0 584.9,1676.6 593.5,1702.9 602.0,1722.3 610.5,1753.6 619.1,1767.9 627.6,1786.3 636.2,1807.1 644.7,1766.9 653.2,1774.6 661.8,1660.0 670.3,1662.4 678.9,1646.1 687.4,1690.4 695.9,1630.2 704.5,1644.4 713.0,1661.7 721.6,1670.9 730.1,1682.4 738.7,1675.7 747.2,1681.9 755.7,1678.1 764.3,1684.0 772.8,1648.6 781.4,1639.3 789.9,1560.7 798.4,1534.6 807.0,1530.3 815.5,1570.0 824.1,1607.5 832.6,1624.4 841.1,1627.5 849.7,1647.0 858.2,1663.7 866.8,1695.3 875.3,1654.5 883.8,1688.2 892.4,1667.2 900.9,1681.6 909.5,1684.9 918.0,1675.3 926.5,1641.9 935.1,1610.7 943.6,1610.7 952.2,1641.4 960.7,1598.0 969.2,1592.8 977.8,1610.1 986.3,1605.4 994.9,1671.4 1003.4,1656.0 1011.9,1587.2 1020.5,1546.2 1029.0,1523.7 1037.6,1481.0 1046.1,1523.8 1054.6,1535.2 1063.2,1470.1 1071.7,1454.6 1080.3,1445.4 1088.8,1459.9 1097.4,1492.8 1105.9,1463.1 1114.4,1503.1 1123.0,1546.1 1131.5,1568.9 1140.1,1608.1 1148.6,1580.5 1157.1,1596.4 1165.7,1562.3 1174.2,1580.4 1182.8,1574.3 1191.3,1618.3 1199.8,1609.1 1208.4,1564.9 1216.9,1531.8 1225.5,1521.3 1234.0,1519.0 1242.5,1573.1 1251.1,1597.8 1259.6,1617.7 1268.2,1599.1 1276.7,1612.9 1285.2,1588.9 1293.8,1626.0 1302.3,1622.2 1310.9,1615.3 1319.4,1637.7 1327.9,1702.3 1336.5,1692.5 1345.0,1696.2 1353.6,1699.3 1362.1,1655.0 1370.6,1636.8 1379.2,1670.3 1387.7,1678.4 1396.3,1695.8 1404.8,1718.3 1413.4,1732.5 1421.9,1701.7 1430.4,1603.9 1439.0,1596.5 1447.5,1592.0 1456.1,1551.0 1464.6,1531.6 1473.1,1487.5 1481.7,1542.9 1490.2,1588.8 1498.8,1609.0 1507.3,1582.9 1515.8,1511.9 1524.4,1565.2 1532.9,1552.5 1541.5,1581.9 1550.0,1614.3 1558.5,1592.5 1567.1,1564.2 1575.6,1549.6 1584.2,1474.9 1592.7,1483.4 1601.2,1465.2 1609.8,1489.3 1618.3,1505.9 1626.9,1497.2 1635.4,1509.0 1643.9,1525.0 1652.5,1537.7 1661.0,1502.3 1669.6,1507.2 1678.1,1499.7 1686.6,1496.2 1695.2,1514.6 1703.7,1520.1 1712.3,1664.2 1720.8,1677.2 1729.3,1629.1 1737.9,1619.9 1746.4,1628.3 1755.0,1653.1 1763.5,1633.0 1772.1,1662.2 1780.6,1693.2 1789.1,1731.7 1797.7,1756.7 1806.2,1745.1 1814.8,1756.8 1823.3,1758.8 1831.8,1709.2 1840.4,1694.0 1848.9,1706.5 1857.5,1733.1 1866.0,1735.9 1874.5,1721.4 1883.1,1734.7 1891.6,1739.9 1900.2,1746.2 1908.7,1705.5 1917.2,1690.6 1925.8,1650.6 1934.3,1633.2 1942.9,1647.9 1951.4,1639.6 1959.9,1699.9 1968.5,1717.2 1977.0,1736.2 1985.6,1711.7 1994.1,1711.9 2002.6,1719.7 2011.2,1737.9 2019.7,1713.9 2028.3,1664.3 2036.8,1667.9 2045.3,1635.6 2053.9,1677.0 2062.4,1725.1 2071.0,1719.0 2079.5,1701.8 2088.1,1716.8 2096.6,1721.3 2105.1,1723.8 2113.7,1713.6 2122.2,1724.2 2130.8,1747.1 2139.3,1771.7 2147.8,1746.2 2156.4,1694.4 2164.9,1690.0 2173.5,1733.0 2182.0,1774.6 2190.5,1770.9 2199.1,1783.4 2207.6,1792.0 2216.2,1803.0 2224.7,1801.5 2233.2,1778.3 2241.8,1781.8 2250.3,1756.9 2258.9,1765.3 2267.4,1727.3 2275.9,1738.0 2284.5,1714.1 2293.0,1723.6 2301.6,1729.9 2310.1,1733.3 2318.6,1748.8 2327.2,1717.7 2335.7,1628.4 2344.3,1651.1 2352.8,1601.7 2361.3,1597.2 2369.9,1628.1 2378.4,1610.6 2387.0,1625.7 2395.5,1650.1 2404.0,1665.6 2412.6,1668.9 2421.1,1616.1 2429.7,1696.1 2438.2,1703.2 2446.8,1678.1 2455.3,1692.1 2463.8,1692.1 2472.4,1709.9 2480.9,1732.6 2489.5,1761.1 2498.0,1730.2 2506.5,1735.2 2515.1,1732.7 2523.6,1691.6 2532.2,1684.0 2540.7,1703.0 2549.2,1691.8 2557.8,1697.1 2566.3,1681.0 2574.9,1701.0 2583.4,1708.0 2591.9,1703.4 2600.5,1699.4 2609.0,1664.9 2617.6,1644.6 2626.1,1637.8 2634.6,1635.5 2643.2,1695.9 2651.7,1727.9 2660.3,1738.3 2668.8,1745.2 2677.3,1726.6 2685.9,1756.8 2694.4,1746.7 2703.0,1749.8 2711.5,1753.9 2720.0,1795.6 2728.6,1768.5 2737.1,1787.5 2745.7,1716.8 2754.2,1733.3 2762.8,1704.3 2771.3,1608.5 2779.8,1640.1 2788.4,1632.5 2796.9,1651.2 2805.5,1651.9 2814.0,1650.6 2822.5,1647.3 2831.1,1632.9 2839.6,1640.0 2848.2,1622.1 2856.7,1572.0 2865.2,1557.1 2873.8,1533.3 2882.3,1526.3 2890.9,1520.9 2899.4,1556.9 2907.9,1510.1 2916.5,1531.7 2925.0,1527.1 2933.6,1493.2 2942.1,1520.1 2950.6,1582.1 2959.2,1597.3 2967.7,1604.9 2976.3,1623.0 2984.8,1612.0 2993.3,1518.9 3001.9,1490.5 3010.4,1443.1 3019.0,1494.7 3027.5,1493.7 3036.0,1490.9 3044.6,1535.7 3053.1,1580.1 3061.7,1605.7 3070.2,1617.8 3078.7,1599.7 3087.3,1628.1 3095.8,1619.9 3104.4,1605.8 3112.9,1567.6 3121.5,1623.7 3130.0,1631.6 3138.5,1638.3 3147.1,1636.2 3155.6,1621.7 3164.2,1630.6 3172.7,1666.3 3181.2,1723.2 3189.8,1710.0 3198.3,1707.2 3206.9,1696.5 3215.4,1697.0 3223.9,1713.1 3232.5,1751.4 3241.0,1726.0 3249.6,1697.1 3258.1,1697.1 3266.6,1662.5 3275.2,1616.4 3283.7,1655.6 3292.3,1698.9 3300.8,1710.7 3309.3,1721.8 3317.9,1716.7 3326.4,1719.9 3335.0,1750.2 3335.0,1768.0" fill="url(#gRed)" clip-path="url(#c30)"/>
<line x1="21" y1="1486.9" x2="3384" y2="1486.9" stroke="#787B86" stroke-width="2" stroke-dasharray="10 12"/>
<line x1="21" y1="1627.5" x2="3384" y2="1627.5" stroke="#787B86" stroke-opacity="0.5" stroke-width="2" stroke-dasharray="10 12"/>
<line x1="21" y1="1768.0" x2="3384" y2="1768.0" stroke="#787B86" stroke-width="2" stroke-dasharray="10 12"/>
<polyline points="21.2,1644.2 29.8,1638.6 38.3,1597.9 46.9,1635.7 55.4,1663.4 64.0,1668.8 72.5,1672.8 81.0,1688.9 89.6,1704.6 98.1,1663.0 106.7,1636.4 115.2,1629.7 123.7,1655.1 132.3,1626.4 140.8,1672.8 149.4,1657.2 157.9,1681.7 166.4,1709.7 175.0,1672.3 183.5,1711.6 192.1,1732.5 200.6,1735.4 209.1,1737.0 217.7,1767.8 226.2,1793.0 234.8,1763.7 243.3,1760.9 251.8,1756.1 260.4,1765.5 268.9,1770.0 277.5,1735.5 286.0,1715.5 294.5,1741.7 303.1,1723.0 311.6,1746.0 320.2,1754.7 328.7,1734.9 337.2,1744.0 345.8,1729.3 354.3,1762.2 362.9,1795.4 371.4,1797.1 380.0,1759.1 388.5,1787.6 397.0,1729.7 405.6,1651.6 414.1,1649.9 422.7,1678.7 431.2,1677.0 439.7,1672.7 448.3,1650.4 456.8,1605.8 465.4,1597.7 473.9,1618.3 482.4,1617.7 491.0,1565.0 499.5,1548.5 508.1,1555.6 516.6,1553.9 525.1,1595.4 533.7,1631.9 542.2,1634.6 550.8,1601.8 559.3,1616.2 567.8,1641.6 576.4,1642.0 584.9,1676.6 593.5,1702.9 602.0,1722.3 610.5,1753.6 619.1,1767.9 627.6,1786.3 636.2,1807.1 644.7,1766.9 653.2,1774.6 661.8,1660.0 670.3,1662.4 678.9,1646.1 687.4,1690.4 695.9,1630.2 704.5,1644.4 713.0,1661.7 721.6,1670.9 730.1,1682.4 738.7,1675.7 747.2,1681.9 755.7,1678.1 764.3,1684.0 772.8,1648.6 781.4,1639.3 789.9,1560.7 798.4,1534.6 807.0,1530.3 815.5,1570.0 824.1,1607.5 832.6,1624.4 841.1,1627.5 849.7,1647.0 858.2,1663.7 866.8,1695.3 875.3,1654.5 883.8,1688.2 892.4,1667.2 900.9,1681.6 909.5,1684.9 918.0,1675.3 926.5,1641.9 935.1,1610.7 943.6,1610.7 952.2,1641.4 960.7,1598.0 969.2,1592.8 977.8,1610.1 986.3,1605.4 994.9,1671.4 1003.4,1656.0 1011.9,1587.2 1020.5,1546.2 1029.0,1523.7 1037.6,1481.0 1046.1,1523.8 1054.6,1535.2 1063.2,1470.1 1071.7,1454.6 1080.3,1445.4 1088.8,1459.9 1097.4,1492.8 1105.9,1463.1 1114.4,1503.1 1123.0,1546.1 1131.5,1568.9 1140.1,1608.1 1148.6,1580.5 1157.1,1596.4 1165.7,1562.3 1174.2,1580.4 1182.8,1574.3 1191.3,1618.3 1199.8,1609.1 1208.4,1564.9 1216.9,1531.8 1225.5,1521.3 1234.0,1519.0 1242.5,1573.1 1251.1,1597.8 1259.6,1617.7 1268.2,1599.1 1276.7,1612.9 1285.2,1588.9 1293.8,1626.0 1302.3,1622.2 1310.9,1615.3 1319.4,1637.7 1327.9,1702.3 1336.5,1692.5 1345.0,1696.2 1353.6,1699.3 1362.1,1655.0 1370.6,1636.8 1379.2,1670.3 1387.7,1678.4 1396.3,1695.8 1404.8,1718.3 1413.4,1732.5 1421.9,1701.7 1430.4,1603.9 1439.0,1596.5 1447.5,1592.0 1456.1,1551.0 1464.6,1531.6 1473.1,1487.5 1481.7,1542.9 1490.2,1588.8 1498.8,1609.0 1507.3,1582.9 1515.8,1511.9 1524.4,1565.2 1532.9,1552.5 1541.5,1581.9 1550.0,1614.3 1558.5,1592.5 1567.1,1564.2 1575.6,1549.6 1584.2,1474.9 1592.7,1483.4 1601.2,1465.2 1609.8,1489.3 1618.3,1505.9 1626.9,1497.2 1635.4,1509.0 1643.9,1525.0 1652.5,1537.7 1661.0,1502.3 1669.6,1507.2 1678.1,1499.7 1686.6,1496.2 1695.2,1514.6 1703.7,1520.1 1712.3,1664.2 1720.8,1677.2 1729.3,1629.1 1737.9,1619.9 1746.4,1628.3 1755.0,1653.1 1763.5,1633.0 1772.1,1662.2 1780.6,1693.2 1789.1,1731.7 1797.7,1756.7 1806.2,1745.1 1814.8,1756.8 1823.3,1758.8 1831.8,1709.2 1840.4,1694.0 1848.9,1706.5 1857.5,1733.1 1866.0,1735.9 1874.5,1721.4 1883.1,1734.7 1891.6,1739.9 1900.2,1746.2 1908.7,1705.5 1917.2,1690.6 1925.8,1650.6 1934.3,1633.2 1942.9,1647.9 1951.4,1639.6 1959.9,1699.9 1968.5,1717.2 1977.0,1736.2 1985.6,1711.7 1994.1,1711.9 2002.6,1719.7 2011.2,1737.9 2019.7,1713.9 2028.3,1664.3 2036.8,1667.9 2045.3,1635.6 2053.9,1677.0 2062.4,1725.1 2071.0,1719.0 2079.5,1701.8 2088.1,1716.8 2096.6,1721.3 2105.1,1723.8 2113.7,1713.6 2122.2,1724.2 2130.8,1747.1 2139.3,1771.7 2147.8,1746.2 2156.4,1694.4 2164.9,1690.0 2173.5,1733.0 2182.0,1774.6 2190.5,1770.9 2199.1,1783.4 2207.6,1792.0 2216.2,1803.0 2224.7,1801.5 2233.2,1778.3 2241.8,1781.8 2250.3,1756.9 2258.9,1765.3 2267.4,1727.3 2275.9,1738.0 2284.5,1714.1 2293.0,1723.6 2301.6,1729.9 2310.1,1733.3 2318.6,1748.8 2327.2,1717.7 2335.7,1628.4 2344.3,1651.1 2352.8,1601.7 2361.3,1597.2 2369.9,1628.1 2378.4,1610.6 2387.0,1625.7 2395.5,1650.1 2404.0,1665.6 2412.6,1668.9 2421.1,1616.1 2429.7,1696.1 2438.2,1703.2 2446.8,1678.1 2455.3,1692.1 2463.8,1692.1 2472.4,1709.9 2480.9,1732.6 2489.5,1761.1 2498.0,1730.2 2506.5,1735.2 2515.1,1732.7 2523.6,1691.6 2532.2,1684.0 2540.7,1703.0 2549.2,1691.8 2557.8,1697.1 2566.3,1681.0 2574.9,1701.0 2583.4,1708.0 2591.9,1703.4 2600.5,1699.4 2609.0,1664.9 2617.6,1644.6 2626.1,1637.8 2634.6,1635.5 2643.2,1695.9 2651.7,1727.9 2660.3,1738.3 2668.8,1745.2 2677.3,1726.6 2685.9,1756.8 2694.4,1746.7 2703.0,1749.8 2711.5,1753.9 2720.0,1795.6 2728.6,1768.5 2737.1,1787.5 2745.7,1716.8 2754.2,1733.3 2762.8,1704.3 2771.3,1608.5 2779.8,1640.1 2788.4,1632.5 2796.9,1651.2 2805.5,1651.9 2814.0,1650.6 2822.5,1647.3 2831.1,1632.9 2839.6,1640.0 2848.2,1622.1 2856.7,1572.0 2865.2,1557.1 2873.8,1533.3 2882.3,1526.3 2890.9,1520.9 2899.4,1556.9 2907.9,1510.1 2916.5,1531.7 2925.0,1527.1 2933.6,1493.2 2942.1,1520.1 2950.6,1582.1 2959.2,1597.3 2967.7,1604.9 2976.3,1623.0 2984.8,1612.0 2993.3,1518.9 3001.9,1490.5 3010.4,1443.1 3019.0,1494.7 3027.5,1493.7 3036.0,1490.9 3044.6,1535.7 3053.1,1580.1 3061.7,1605.7 3070.2,1617.8 3078.7,1599.7 3087.3,1628.1 3095.8,1619.9 3104.4,1605.8 3112.9,1567.6 3121.5,1623.7 3130.0,1631.6 3138.5,1638.3 3147.1,1636.2 3155.6,1621.7 3164.2,1630.6 3172.7,1666.3 3181.2,1723.2 3189.8,1710.0 3198.3,1707.2 3206.9,1696.5 3215.4,1697.0 3223.9,1713.1 3232.5,1751.4 3241.0,1726.0 3249.6,1697.1 3258.1,1697.1 3266.6,1662.5 3275.2,1616.4 3283.7,1655.6 3292.3,1698.9 3300.8,1710.7 3309.3,1721.8 3317.9,1716.7 3326.4,1719.9 3335.0,1750.2" fill="none" stroke="#000" stroke-width="2.0" stroke-linejoin="miter" stroke-miterlimit="3"/>
</g><text x="19.6" y="40.5" font-size="25.3" fill="#131722" textLength="763.1" lengthAdjust="spacingAndGlyphs" >crispus9 published on TradingView.com, Jun 17, 2025 16:33 UTC+3</text>
<text x="36.1" y="94.4" font-size="24.5" fill="#131722" textLength="352.3" lengthAdjust="spacingAndGlyphs" >Sei / US Dollar · 1D · COINBASE</text>
<text x="402.3" y="94.4" font-size="24.5" fill="#131722" textLength="18.2" lengthAdjust="spacingAndGlyphs" >O</text>
<text x="420.4" y="94.4" font-size="24.5" fill="#F23645" textLength="75.6" lengthAdjust="spacingAndGlyphs" >0.1759</text>
<text x="510.9" y="94.4" font-size="24.5" fill="#131722" textLength="15.7" lengthAdjust="spacingAndGlyphs" >H</text>
<text x="527.3" y="94.4" font-size="24.5" fill="#F23645" textLength="75.4" lengthAdjust="spacingAndGlyphs" >0.1784</text>
<text x="617.6" y="94.4" font-size="24.5" fill="#131722" textLength="12.4" lengthAdjust="spacingAndGlyphs" >L</text>
<text x="631.0" y="94.4" font-size="24.5" fill="#F23645" textLength="75.3" lengthAdjust="spacingAndGlyphs" >0.1652</text>
<text x="720.7" y="94.4" font-size="24.5" fill="#131722" textLength="15.7" lengthAdjust="spacingAndGlyphs" >C</text>
<text x="737.5" y="94.4" font-size="24.5" fill="#F23645" textLength="76.1" lengthAdjust="spacingAndGlyphs" >0.1658</text>
<text x="828.0" y="94.4" font-size="24.5" fill="#131722" textLength="34.3" lengthAdjust="spacingAndGlyphs" >Vol</text>
<text x="865.2" y="94.4" font-size="24.5" fill="#F23645" textLength="60.0" lengthAdjust="spacingAndGlyphs" >14.95</text>
<text x="930.5" y="94.4" font-size="24.5" fill="#F23645" textLength="18.5" lengthAdjust="spacingAndGlyphs" >M</text>
<text x="36.5" y="127.9" font-size="24.5" fill="#131722" textLength="177.6" lengthAdjust="spacingAndGlyphs" >EMA (50, close)</text>
<text x="229.0" y="127.9" font-size="24.5" fill="#2962FF" textLength="76.4" lengthAdjust="spacingAndGlyphs" >0.2019</text>
<text x="36.5" y="161.3" font-size="24.5" fill="#131722" textLength="188.7" lengthAdjust="spacingAndGlyphs" >EMA (100, close)</text>
<text x="240.7" y="161.3" font-size="24.5" fill="#E91E63" textLength="76.3" lengthAdjust="spacingAndGlyphs" >0.2188</text>
<text x="36.5" y="989.7" font-size="24.5" fill="#131722" textLength="236.1" lengthAdjust="spacingAndGlyphs" >MACD (12, 26, close)</text>
<text x="288.0" y="989.7" font-size="24.5" fill="#FF5252" textLength="91.2" lengthAdjust="spacingAndGlyphs" >−0.0019</text>
<text x="392.8" y="989.7" font-size="24.5" fill="#2962FF" textLength="90.5" lengthAdjust="spacingAndGlyphs" >−0.0107</text>
<text x="496.5" y="989.7" font-size="24.5" fill="#FF6D00" textLength="96.3" lengthAdjust="spacingAndGlyphs" >−0.0088</text>
<text x="36.3" y="1439.2" font-size="24.5" fill="#131722" textLength="160.3" lengthAdjust="spacingAndGlyphs" >RSI (14, close)</text>
<text x="212.0" y="1439.2" font-size="24.5" fill="#131722" textLength="63.0" lengthAdjust="spacingAndGlyphs" >32.76</text>
<rect x="3390.5" y="62.4" width="155" height="51.5" rx="12" fill="#fff" stroke="#F0F0F0" stroke-width="2"/>
<text x="3407.9" y="96.3" font-size="24.5" fill="#131722" textLength="50.5" lengthAdjust="spacingAndGlyphs" >USD</text>
<text x="3404.0" y="201.2" font-size="33" fill="#131722" textLength="105.0" lengthAdjust="spacingAndGlyphs" >0.7000</text>
<text x="3404.0" y="321.4" font-size="33" fill="#131722" textLength="105.0" lengthAdjust="spacingAndGlyphs" >0.6000</text>
<text x="3404.0" y="441.6" font-size="33" fill="#131722" textLength="105.0" lengthAdjust="spacingAndGlyphs" >0.5000</text>
<text x="3404.0" y="561.8" font-size="33" fill="#131722" textLength="105.0" lengthAdjust="spacingAndGlyphs" >0.4000</text>
<text x="3404.0" y="682.0" font-size="33" fill="#131722" textLength="105.0" lengthAdjust="spacingAndGlyphs" >0.3000</text>
<text x="3404.0" y="922.4" font-size="33" fill="#131722" textLength="105.0" lengthAdjust="spacingAndGlyphs" >0.1000</text>
<path d="M3384,678.0 H3519 a5,5 0 0 1 5,5 V719.0 a5,5 0 0 1 -5,5 H3384 Z" fill="#089981"/>
<text x="3404.5" y="712.5" font-size="33" fill="#fff" textLength="105.2" lengthAdjust="spacingAndGlyphs" >0.2747</text>
<path d="M3384,764.8 H3519 a5,5 0 0 1 5,5 V805.8 a5,5 0 0 1 -5,5 H3384 Z" fill="#FF9800"/>
<text x="3404.5" y="799.3" font-size="33" fill="#000" textLength="105.2" lengthAdjust="spacingAndGlyphs" >0.2017</text>
<path d="M3384,851.8 H3519 a5,5 0 0 1 5,5 V892.8 a5,5 0 0 1 -5,5 H3384 Z" fill="#089981"/>
<text x="3404.5" y="886.3" font-size="33" fill="#fff" textLength="105.2" lengthAdjust="spacingAndGlyphs" >0.1295</text>
<text x="3404.0" y="1055.5" font-size="33" fill="#131722" textLength="105.0" lengthAdjust="spacingAndGlyphs" >0.0500</text>
<text x="3404.0" y="1219.5" font-size="33" fill="#131722" textLength="105.0" lengthAdjust="spacingAndGlyphs" >0.0000</text>
<text x="3403.0" y="1383.5" font-size="33" fill="#131722" textLength="126.0" lengthAdjust="spacingAndGlyphs" >−0.0500</text>
<g clip-path="url(#clipRA)">
<text x="3403.4" y="1428.7" font-size="33" fill="#131722" textLength="86.3" lengthAdjust="spacingAndGlyphs" >80.00</text>
<text x="3403.4" y="1569.3" font-size="33" fill="#131722" textLength="86.3" lengthAdjust="spacingAndGlyphs" >60.00</text>
<text x="3403.4" y="1709.8" font-size="33" fill="#131722" textLength="86.3" lengthAdjust="spacingAndGlyphs" >40.00</text>
<text x="3403.4" y="1850.4" font-size="33" fill="#131722" textLength="86.3" lengthAdjust="spacingAndGlyphs" >20.00</text>
</g>
<text x="55.0" y="1891.8" font-size="31.6" fill="#131722" textLength="52.6" lengthAdjust="spacingAndGlyphs" >Jun</text>
<text x="316.0" y="1891.8" font-size="31.6" fill="#131722" textLength="42.0" lengthAdjust="spacingAndGlyphs" >Jul</text>
<text x="573.8" y="1891.8" font-size="31.6" fill="#131722" textLength="56.8" lengthAdjust="spacingAndGlyphs" >Aug</text>
<text x="838.6" y="1891.8" font-size="31.6" fill="#131722" textLength="57.0" lengthAdjust="spacingAndGlyphs" >Sep</text>
<text x="1097.1" y="1891.8" font-size="31.6" fill="#131722" textLength="52.3" lengthAdjust="spacingAndGlyphs" >Oct</text>
<text x="1359.4" y="1891.8" font-size="31.6" fill="#131722" textLength="57.4" lengthAdjust="spacingAndGlyphs" >Nov</text>
<text x="1615.1" y="1891.8" font-size="31.6" fill="#131722" textLength="57.9" lengthAdjust="spacingAndGlyphs" >Dec</text>
<text x="1868.1" y="1891.8" font-size="31.6" fill="#131722" textLength="82.6" lengthAdjust="spacingAndGlyphs"  font-weight="bold">2025</text>
<text x="2147.0" y="1891.8" font-size="31.6" fill="#131722" textLength="54.2" lengthAdjust="spacingAndGlyphs" >Feb</text>
<text x="2385.5" y="1891.8" font-size="31.6" fill="#131722" textLength="55.5" lengthAdjust="spacingAndGlyphs" >Mar</text>
<text x="2652.4" y="1891.8" font-size="31.6" fill="#131722" textLength="51.9" lengthAdjust="spacingAndGlyphs" >Apr</text>
<text x="2904.0" y="1891.8" font-size="31.6" fill="#131722" textLength="59.7" lengthAdjust="spacingAndGlyphs" >May</text>
<text x="3172.7" y="1891.8" font-size="31.6" fill="#131722" textLength="52.3" lengthAdjust="spacingAndGlyphs" >Jun</text>
<text x="67.0" y="1962.4" font-size="26.2" fill="#131722" textLength="149.0" lengthAdjust="spacingAndGlyphs" >TradingView</text>
<path d="M20.1,1942.1 H35.2 V1961.3 H27.8 V1949.5 H20.1 Z M50.4,1942.1 H58.9 L50.6,1961.3 H42.4 Z" fill="#131722"/>
<circle cx="42.1" cy="1946.6" r="4.3" fill="#131722"/></svg>
</body></html>
